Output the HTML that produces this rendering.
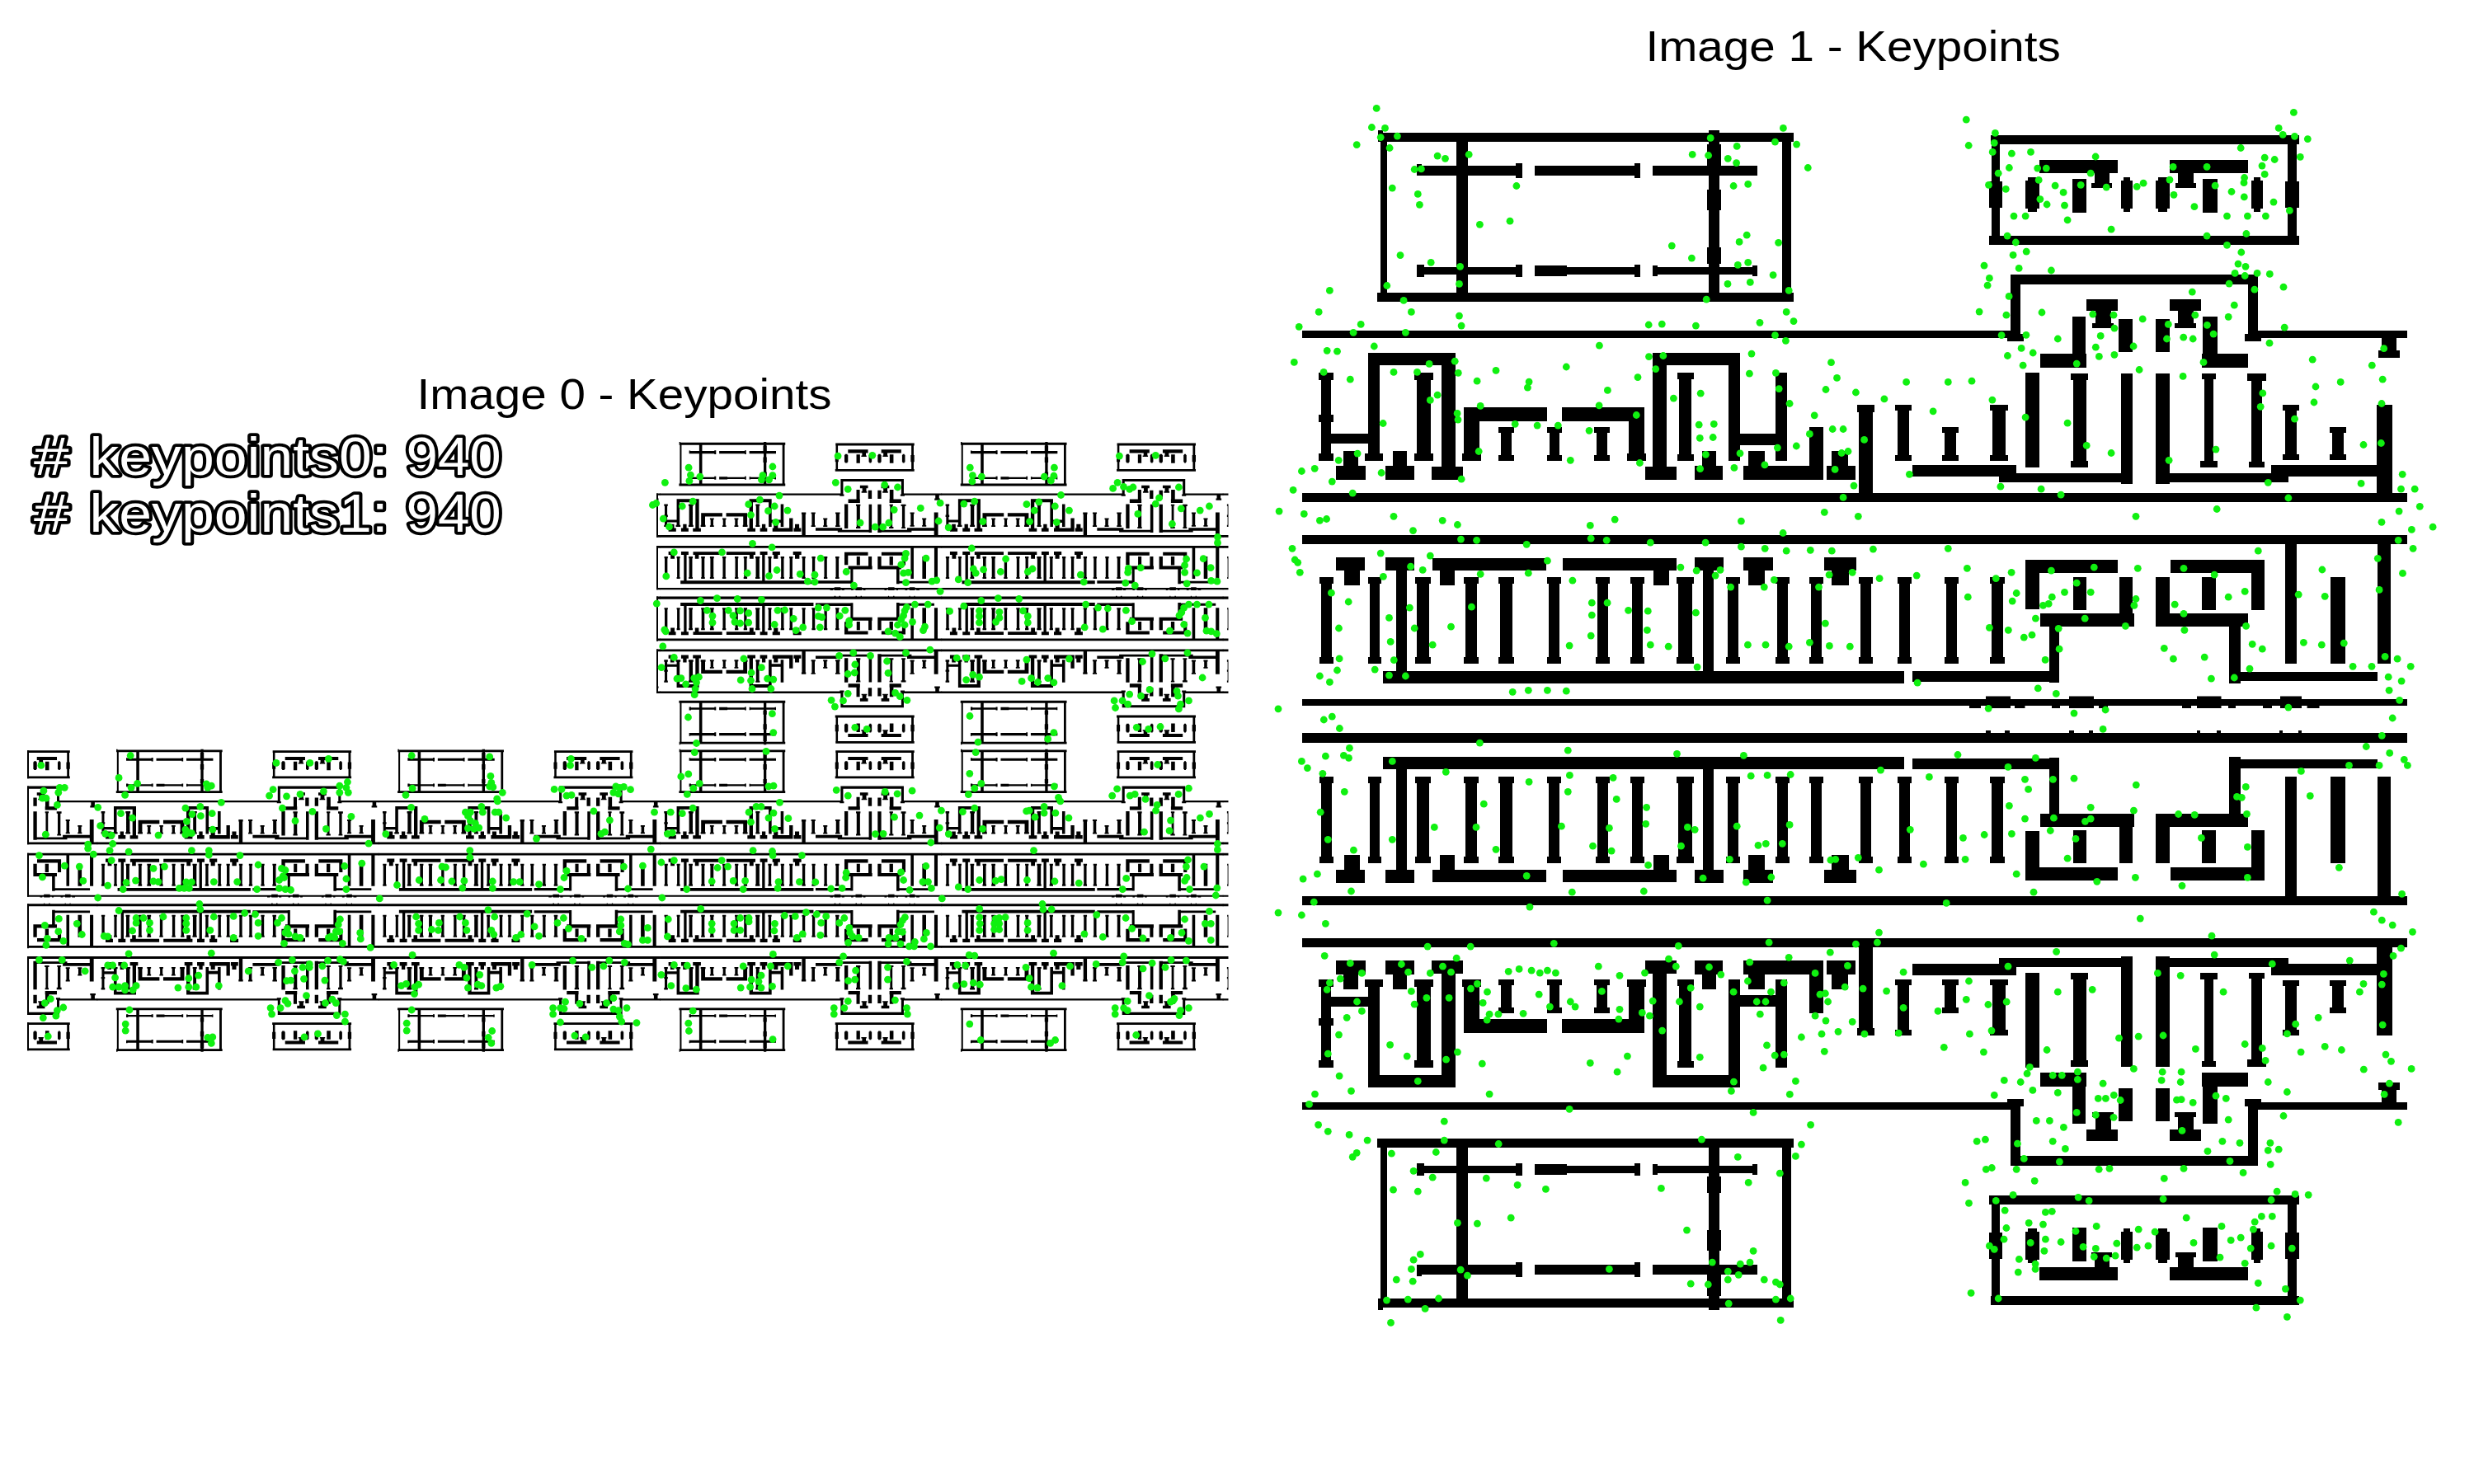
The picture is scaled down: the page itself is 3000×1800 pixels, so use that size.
<!DOCTYPE html><html><head><meta charset="utf-8"><title>Keypoints</title><style>html,body{margin:0;padding:0;background:#fff;overflow:hidden}svg{display:block}</style></head><body>
<svg width="3000" height="1800" viewBox="0 0 3000 1800">
<defs>
<path id="T" d="M1671 161h504v11h-504zM1670 355h505v11h-505zM1674 161h8v205h-8zM2161 161h11v205h-11zM1671 158h6v5h-6zM1766 172h14v183h-14zM2072 158h13v208h-13zM2070 175h17v30h-17zM2070 230h17v25h-17zM2070 300h17v20h-17zM1718 201h128v12h-128zM1861 201h128v12h-128zM2004 201h127v12h-127zM1718 199h6v4h-6zM1718 324h128v9h-128zM1861 324h128v9h-128zM2004 324h127v9h-127zM1718 321h9v15h-9zM1861 322h39v13h-39zM2004 322h6v13h-6zM2125 322h6v13h-6zM1838 198h8v18h-8zM1982 198h7v18h-7zM1838 321h8v15h-8zM1982 321h7v15h-7zM2414 164h374v11h-374zM2412 286h376v11h-376zM2415 164h10v133h-10zM2774 164h11v133h-11zM2412 220h16v32h-16zM2771 220h17v32h-17zM2473 194h95v16h-95zM2540 210h18v17h-18zM2536 222h25v6h-25zM2631 194h95v16h-95zM2641 210h19v17h-19zM2638 222h25v6h-25zM2456 219h17v34h-17zM2513 217h17v41h-17zM2572 219h14v34h-14zM2614 219h17v34h-17zM2671 217h18v41h-18zM2730 219h14v34h-14zM2459 215h11v42h-11zM2575 215h8v42h-8zM2617 215h11v42h-11zM2733 215h8v42h-8zM1579 401h871v9h-871zM2726 401h193v9h-193zM2438 333h300v12h-300zM2438 333h12v79h-12zM2726 333h12v79h-12zM2434 405h20v9h-20zM2722 405h20v9h-20zM2530 363h38v14h-38zM2541 377h19v20h-19zM2537 392h26v6h-26zM2631 363h38v14h-38zM2641 377h19v20h-19zM2637 392h26v6h-26zM2513 384h16v62h-16zM2474 429h56v17h-56zM2569 387h17v40h-17zM2614 387h17v40h-17zM2671 384h18v62h-18zM2670 429h56v17h-56zM2888 410h18v24h-18zM2884 425h26v9h-26zM1579 598h1340v11h-1340zM1602 452h12v107h-12zM1599 452h18v9h-18zM1599 550h18v9h-18zM1599 503h18v9h-18zM1614 526h48v12h-48zM1659 428h106v15h-106zM1659 428h14v131h-14zM1748 428h17v138h-17zM1736 566h38v16h-38zM1655 550h22v9h-22zM1718 452h17v107h-17zM1715 452h23v9h-23zM1715 550h23v9h-23zM1620 565h36v17h-36zM1629 547h18v18h-18zM1680 565h35v17h-35zM1689 547h17v18h-17zM1775 494h19v65h-19zM1775 494h101v17h-101zM1894 494h100v17h-100zM1975 494h19v65h-19zM1773 550h23v9h-23zM1973 550h23v9h-23zM2004 428h106v15h-106zM2004 428h17v138h-17zM2096 428h14v131h-14zM1995 566h38v16h-38zM2036 452h15v107h-15zM2034 452h20v8h-20zM2034 551h20v8h-20zM2153 452h14v107h-14zM2107 526h60v14h-60zM2055 565h34v17h-34zM2064 547h17v18h-17zM2114 565h97v17h-97zM2120 547h20v18h-20zM2194 518h17v47h-17zM2215 565h35v17h-35zM2221 547h20v18h-20zM2254 491h17v107h-17zM2252 491h21v9h-21zM2319 564h126v14h-126zM2424 574h162v11h-162zM2456 452h17v115h-17zM2514 453h16v114h-16zM2511 453h21v8h-21zM2511 559h21v8h-21zM2572 453h14v134h-14zM2614 453h17v134h-17zM2614 574h161v11h-161zM2668 559h21v8h-21zM2725 453h23v9h-23zM2754 564h129v14h-129zM2882 491h19v107h-19zM1579 649h1340v11h-1340zM1579 848h1340v8h-1340zM1620 676h35v16h-35zM1630 692h19v18h-19zM1680 676h35v16h-35zM1693 692h13v122h-13zM1737 677h138v15h-138zM1746 692h18v18h-18zM1895 677h138v15h-138zM2005 692h19v18h-19zM2055 676h35v16h-35zM2065 692h13v123h-13zM2114 676h36v16h-36zM2120 692h20v18h-20zM2212 676h39v16h-39zM2221 692h21v18h-21zM2456 679h112v16h-112zM2456 679h17v60h-17zM2570 700h16v59h-16zM2474 744h114v16h-114zM2485 760h12v68h-12zM2514 700h16v40h-16zM2632 679h114v16h-114zM2730 679h16v61h-16zM2614 700h17v60h-17zM2614 744h112v16h-112zM2703 760h14v69h-14zM2703 815h180v11h-180zM2670 700h17v40h-17zM2771 660h14v145h-14zM2883 660h16v145h-16zM2826 700h18v105h-18zM1677 814h632v15h-632zM2319 814h178v13h-178zM1602 700h13v105h-13zM1600 700h17v8h-17zM1600 797h17v8h-17zM1661 700h12v105h-12zM1659 700h16v8h-16zM1659 797h16v8h-16zM1718 700h15v105h-15zM1716 700h19v8h-19zM1716 797h19v8h-19zM1777 700h14v105h-14zM1775 700h18v8h-18zM1775 797h18v8h-18zM1819 700h15v105h-15zM1817 700h19v8h-19zM1817 797h19v8h-19zM1878 700h13v105h-13zM1876 700h17v8h-17zM1876 797h17v8h-17zM1937 700h13v105h-13zM1935 700h17v8h-17zM1935 797h17v8h-17zM1979 700h13v105h-13zM1977 700h17v8h-17zM1977 797h17v8h-17zM2035 700h17v105h-17zM2033 700h21v8h-21zM2033 797h21v8h-21zM2095 700h13v105h-13zM2093 700h17v8h-17zM2093 797h17v8h-17zM2155 700h13v105h-13zM2153 700h17v8h-17zM2153 797h17v8h-17zM2196 700h13v105h-13zM2194 700h17v8h-17zM2194 797h17v8h-17zM2256 700h13v105h-13zM2254 700h17v8h-17zM2254 797h17v8h-17zM2303 700h13v105h-13zM2301 700h17v8h-17zM2301 797h17v8h-17zM2360 700h13v105h-13zM2358 700h17v8h-17zM2358 797h17v8h-17zM2415 700h14v105h-14zM2413 700h18v8h-18zM2413 797h18v8h-18zM1820 518h13v41h-13zM1817 518h19v7h-19zM1817 552h19v7h-19zM1879 518h12v41h-12zM1876 518h18v7h-18zM1876 552h18v7h-18zM1936 518h13v41h-13zM1933 518h19v7h-19zM1933 552h19v7h-19zM2301 491h14v68h-14zM2298 491h20v7h-20zM2298 552h20v7h-20zM2358 518h14v41h-14zM2355 518h20v7h-20zM2355 552h20v7h-20zM2416 491h16v68h-16zM2413 491h22v7h-22zM2413 552h22v7h-22zM2771 491h14v67h-14zM2768 491h20v7h-20zM2768 551h20v7h-20zM2828 518h14v40h-14zM2825 518h20v7h-20zM2825 551h20v7h-20zM2673 453h11v114h-11zM2670 453h17v7h-17zM2670 560h17v7h-17zM2730 453h13v114h-13zM2727 453h19v7h-19zM2727 560h19v7h-19zM1671 1575h504v11h-504zM1670 1381h505v11h-505zM1674 1381h8v205h-8zM2161 1381h11v205h-11zM1671 1584h6v5h-6zM1766 1392h14v183h-14zM2072 1381h13v208h-13zM2070 1542h17v30h-17zM2070 1492h17v25h-17zM2070 1427h17v20h-17zM1718 1534h128v12h-128zM1861 1534h128v12h-128zM2004 1534h127v12h-127zM1718 1544h6v4h-6zM1718 1414h128v9h-128zM1861 1414h128v9h-128zM2004 1414h127v9h-127zM1718 1411h9v15h-9zM1861 1412h39v13h-39zM2004 1412h6v13h-6zM2125 1412h6v13h-6zM1838 1531h8v18h-8zM1982 1531h7v18h-7zM1838 1411h8v15h-8zM1982 1411h7v15h-7zM2414 1572h374v11h-374zM2412 1450h376v11h-376zM2415 1450h10v133h-10zM2774 1450h11v133h-11zM2412 1495h16v32h-16zM2771 1495h17v32h-17zM2473 1537h95v16h-95zM2540 1520h18v17h-18zM2536 1519h25v6h-25zM2631 1537h95v16h-95zM2641 1520h19v17h-19zM2638 1519h25v6h-25zM2456 1494h17v34h-17zM2513 1489h17v41h-17zM2572 1494h14v34h-14zM2614 1494h17v34h-17zM2671 1489h18v41h-18zM2730 1494h14v34h-14zM2459 1490h11v42h-11zM2575 1490h8v42h-8zM2617 1490h11v42h-11zM2733 1490h8v42h-8zM1579 1337h871v9h-871zM2726 1337h193v9h-193zM2438 1402h300v12h-300zM2438 1335h12v79h-12zM2726 1335h12v79h-12zM2434 1333h20v9h-20zM2722 1333h20v9h-20zM2530 1370h38v14h-38zM2541 1350h19v20h-19zM2537 1349h26v6h-26zM2631 1370h38v14h-38zM2641 1350h19v20h-19zM2637 1349h26v6h-26zM2513 1301h16v62h-16zM2474 1301h56v17h-56zM2569 1320h17v40h-17zM2614 1320h17v40h-17zM2671 1301h18v62h-18zM2670 1301h56v17h-56zM2888 1313h18v24h-18zM2884 1313h26v9h-26zM1579 1138h1340v11h-1340zM1602 1188h12v107h-12zM1599 1286h18v9h-18zM1599 1188h18v9h-18zM1599 1235h18v9h-18zM1614 1209h48v12h-48zM1659 1304h106v15h-106zM1659 1188h14v131h-14zM1748 1181h17v138h-17zM1736 1165h38v16h-38zM1655 1188h22v9h-22zM1718 1188h17v107h-17zM1715 1286h23v9h-23zM1715 1188h23v9h-23zM1620 1165h36v17h-36zM1629 1182h18v18h-18zM1680 1165h35v17h-35zM1689 1182h17v18h-17zM1775 1188h19v65h-19zM1775 1236h101v17h-101zM1894 1236h100v17h-100zM1975 1188h19v65h-19zM1773 1188h23v9h-23zM1973 1188h23v9h-23zM2004 1304h106v15h-106zM2004 1181h17v138h-17zM2096 1188h14v131h-14zM1995 1165h38v16h-38zM2036 1188h15v107h-15zM2034 1287h20v8h-20zM2034 1188h20v8h-20zM2153 1188h14v107h-14zM2107 1207h60v14h-60zM2055 1165h34v17h-34zM2064 1182h17v18h-17zM2114 1165h97v17h-97zM2120 1182h20v18h-20zM2194 1182h17v47h-17zM2215 1165h35v17h-35zM2221 1182h20v18h-20zM2254 1149h17v107h-17zM2252 1247h21v9h-21zM2319 1169h126v14h-126zM2424 1162h162v11h-162zM2456 1180h17v115h-17zM2514 1180h16v114h-16zM2511 1286h21v8h-21zM2511 1180h21v8h-21zM2572 1160h14v134h-14zM2614 1160h17v134h-17zM2614 1162h161v11h-161zM2668 1180h21v8h-21zM2725 1285h23v9h-23zM2754 1169h129v14h-129zM2882 1149h19v107h-19zM1579 1087h1340v11h-1340zM1579 891h1340v8h-1340zM1620 1055h35v16h-35zM1630 1037h19v18h-19zM1680 1055h35v16h-35zM1693 933h13v122h-13zM1737 1055h138v15h-138zM1746 1037h18v18h-18zM1895 1055h138v15h-138zM2005 1037h19v18h-19zM2055 1055h35v16h-35zM2065 932h13v123h-13zM2114 1055h36v16h-36zM2120 1037h20v18h-20zM2212 1055h39v16h-39zM2221 1037h21v18h-21zM2456 1052h112v16h-112zM2456 1008h17v60h-17zM2570 988h16v59h-16zM2474 987h114v16h-114zM2485 919h12v68h-12zM2514 1007h16v40h-16zM2632 1052h114v16h-114zM2730 1007h16v61h-16zM2614 987h17v60h-17zM2614 987h112v16h-112zM2703 918h14v69h-14zM2703 921h180v11h-180zM2670 1007h17v40h-17zM2771 942h14v145h-14zM2883 942h16v145h-16zM2826 942h18v105h-18zM1677 918h632v15h-632zM2319 920h178v13h-178zM1602 942h13v105h-13zM1600 1039h17v8h-17zM1600 942h17v8h-17zM1661 942h12v105h-12zM1659 1039h16v8h-16zM1659 942h16v8h-16zM1718 942h15v105h-15zM1716 1039h19v8h-19zM1716 942h19v8h-19zM1777 942h14v105h-14zM1775 1039h18v8h-18zM1775 942h18v8h-18zM1819 942h15v105h-15zM1817 1039h19v8h-19zM1817 942h19v8h-19zM1878 942h13v105h-13zM1876 1039h17v8h-17zM1876 942h17v8h-17zM1937 942h13v105h-13zM1935 1039h17v8h-17zM1935 942h17v8h-17zM1979 942h13v105h-13zM1977 1039h17v8h-17zM1977 942h17v8h-17zM2035 942h17v105h-17zM2033 1039h21v8h-21zM2033 942h21v8h-21zM2095 942h13v105h-13zM2093 1039h17v8h-17zM2093 942h17v8h-17zM2155 942h13v105h-13zM2153 1039h17v8h-17zM2153 942h17v8h-17zM2196 942h13v105h-13zM2194 1039h17v8h-17zM2194 942h17v8h-17zM2256 942h13v105h-13zM2254 1039h17v8h-17zM2254 942h17v8h-17zM2303 942h13v105h-13zM2301 1039h17v8h-17zM2301 942h17v8h-17zM2360 942h13v105h-13zM2358 1039h17v8h-17zM2358 942h17v8h-17zM2415 942h14v105h-14zM2413 1039h18v8h-18zM2413 942h18v8h-18zM1820 1188h13v41h-13zM1817 1222h19v7h-19zM1817 1188h19v7h-19zM1879 1188h12v41h-12zM1876 1222h18v7h-18zM1876 1188h18v7h-18zM1936 1188h13v41h-13zM1933 1222h19v7h-19zM1933 1188h19v7h-19zM2301 1188h14v68h-14zM2298 1249h20v7h-20zM2298 1188h20v7h-20zM2358 1188h14v41h-14zM2355 1222h20v7h-20zM2355 1188h20v7h-20zM2416 1188h16v68h-16zM2413 1249h22v7h-22zM2413 1188h22v7h-22zM2771 1189h14v67h-14zM2768 1249h20v7h-20zM2768 1189h20v7h-20zM2828 1189h14v40h-14zM2825 1222h20v7h-20zM2825 1189h20v7h-20zM2673 1180h11v114h-11zM2670 1287h17v7h-17zM2670 1180h17v7h-17zM2730 1180h13v114h-13zM2727 1287h19v7h-19zM2727 1180h19v7h-19zM1579 889h1340v12h-1340zM2388 853h14v6h-14zM2408 844.5h30v14.5h-30zM2443 853h12.5v6h-12.5zM2488 853h10v6h-10zM2509 844.5h30v14.5h-30zM2545 853h11v6h-11zM2646 853h11v6h-11zM2664 844.5h29.5v14.5h-29.5zM2702 853h9v6h-9zM2744 853h11v6h-11zM2765 844.5h26v14.5h-26zM2797.6 853h14.9v6h-14.9zM2408 886h6v4h-6zM2431 886h6v4h-6zM2509 886h6v4h-6zM2533 886h5v4h-5zM2664 886h4v4h-4zM2688 886h5v4h-5zM2764 886h4v4h-4zM2787 886h4v4h-4z"/>
<clipPath id="cT"><rect x="796" y="520" width="693.5" height="387"/></clipPath>
<clipPath id="cB"><rect x="33" y="905" width="1456.5" height="380"/></clipPath>
</defs>
<rect width="3000" height="1800" fill="#fff"/>
<use href="#T" fill="#000"/>
<g clip-path="url(#cT)" fill="#000">
<use href="#T" transform="matrix(0.2552 0 0 0.2566 55.9 495.5)"/>
<use href="#T" transform="matrix(0.2552 0 0 0.2566 397.2 495.5)"/>
<use href="#T" transform="matrix(0.2552 0 0 0.2566 738.5 495.5)"/>
<use href="#T" transform="matrix(0.2552 0 0 0.2566 1079.8 495.5)"/>
</g>
<g clip-path="url(#cB)" fill="#000">
<use href="#T" transform="matrix(0.2552 0 0 0.2566 -626.7 868.1)"/>
<use href="#T" transform="matrix(0.2552 0 0 0.2566 -285.4 868.1)"/>
<use href="#T" transform="matrix(0.2552 0 0 0.2566 55.9 868.1)"/>
<use href="#T" transform="matrix(0.2552 0 0 0.2566 397.2 868.1)"/>
<use href="#T" transform="matrix(0.2552 0 0 0.2566 738.5 868.1)"/>
<use href="#T" transform="matrix(0.2552 0 0 0.2566 1079.8 868.1)"/>
</g>
<path fill="#000" d="M796 598.4h2v53.37h-2zM796 662.03h2v53.12h-2zM796 723.62h2v54.14h-2zM796 787.51h2v53.37h-2zM33 910.18h2v34.13h-2zM33 953.55h2v70.82h-2zM33 1034.63h2v53.12h-2zM33 1096.22h2v54.14h-2zM33 1160.11h2v70.82h-2zM33 1240.17h2v34.13h-2z"/>
<g fill="#10f010">
<circle cx="1669.2" cy="131.4" r="4.4"/><circle cx="1663.4" cy="154.5" r="4.4"/><circle cx="1679.5" cy="155.4" r="4.4"/><circle cx="1674.2" cy="166.6" r="4.4"/><circle cx="1694.4" cy="165.1" r="4.4"/><circle cx="1645.2" cy="175.6" r="4.4"/><circle cx="1685.1" cy="179.5" r="4.4"/><circle cx="1743.1" cy="189.1" r="4.4"/><circle cx="1752.5" cy="192.3" r="4.4"/><circle cx="1781.2" cy="187.4" r="4.4"/><circle cx="1715.2" cy="205.5" r="4.4"/><circle cx="1723.4" cy="204.9" r="4.4"/><circle cx="1688.3" cy="228.1" r="4.4"/><circle cx="1838.9" cy="225.5" r="4.4"/><circle cx="1719.3" cy="235.4" r="4.4"/><circle cx="1721.4" cy="248.3" r="4.4"/><circle cx="1794.4" cy="272.3" r="4.4"/><circle cx="1831" cy="268.2" r="4.4"/><circle cx="1698" cy="309.6" r="4.4"/><circle cx="1735.2" cy="318.4" r="4.4"/><circle cx="1770.6" cy="323.3" r="4.4"/><circle cx="1681.8" cy="346.5" r="4.4"/><circle cx="1769.5" cy="344.4" r="4.4"/><circle cx="1612.4" cy="352.4" r="4.4"/><circle cx="1702.1" cy="364.4" r="4.4"/><circle cx="1599.2" cy="378.4" r="4.4"/><circle cx="1711.4" cy="378.4" r="4.4"/><circle cx="1769.5" cy="383.1" r="4.4"/><circle cx="1772.1" cy="395.1" r="4.4"/><circle cx="1575.2" cy="396.3" r="4.4"/><circle cx="1650.2" cy="393.4" r="4.4"/><circle cx="1641.1" cy="403.3" r="4.4"/><circle cx="1704.4" cy="403.3" r="4.4"/><circle cx="1666.3" cy="420" r="4.4"/><circle cx="1609.2" cy="425.3" r="4.4"/><circle cx="1621.5" cy="426.2" r="4.4"/><circle cx="1569.3" cy="439.4" r="4.4"/><circle cx="1605.1" cy="451.4" r="4.4"/><circle cx="1637.3" cy="460.2" r="4.4"/><circle cx="1690" cy="451.4" r="4.4"/><circle cx="1718.5" cy="451.4" r="4.4"/><circle cx="1733.1" cy="441.4" r="4.4"/><circle cx="1764.2" cy="438.2" r="4.4"/><circle cx="1768.3" cy="452.3" r="4.4"/><circle cx="1791.1" cy="462.2" r="4.4"/><circle cx="1814" cy="449.4" r="4.4"/><circle cx="1743.1" cy="479.2" r="4.4"/><circle cx="1734.3" cy="485.4" r="4.4"/><circle cx="1795.2" cy="492.4" r="4.4"/><circle cx="1854.1" cy="463.1" r="4.4"/><circle cx="1852.4" cy="470.2" r="4.4"/><circle cx="1899.3" cy="445" r="4.4"/><circle cx="1939.4" cy="419.2" r="4.4"/><circle cx="1949.4" cy="473.4" r="4.4"/><circle cx="1939.1" cy="491.8" r="4.4"/><circle cx="1986" cy="457.6" r="4.4"/><circle cx="1999.2" cy="394" r="4.4"/><circle cx="2015.3" cy="393.1" r="4.4"/><circle cx="2056.4" cy="395.1" r="4.4"/><circle cx="1999.5" cy="432.6" r="4.4"/><circle cx="2016.8" cy="431.5" r="4.4"/><circle cx="2007.7" cy="447.6" r="4.4"/><circle cx="2029.4" cy="483.1" r="4.4"/><circle cx="2062.2" cy="477.2" r="4.4"/><circle cx="2074.2" cy="167.4" r="4.4"/><circle cx="2052.2" cy="187.4" r="4.4"/><circle cx="2071.6" cy="188.5" r="4.4"/><circle cx="2106.2" cy="177.4" r="4.4"/><circle cx="2095.3" cy="192.3" r="4.4"/><circle cx="2105.6" cy="197.6" r="4.4"/><circle cx="2152.5" cy="172.1" r="4.4"/><circle cx="2162.4" cy="155.4" r="4.4"/><circle cx="2178.6" cy="175.1" r="4.4"/><circle cx="2192.3" cy="203.5" r="4.4"/><circle cx="2102.1" cy="225.5" r="4.4"/><circle cx="2119.7" cy="223.4" r="4.4"/><circle cx="2027.3" cy="298.1" r="4.4"/><circle cx="2051.4" cy="313.1" r="4.4"/><circle cx="2109.1" cy="293.4" r="4.4"/><circle cx="2118.2" cy="285.2" r="4.4"/><circle cx="2156.6" cy="294.3" r="4.4"/><circle cx="2107.3" cy="321.3" r="4.4"/><circle cx="2119.7" cy="318.4" r="4.4"/><circle cx="2150.1" cy="333.6" r="4.4"/><circle cx="2095" cy="344.4" r="4.4"/><circle cx="2122.3" cy="342.4" r="4.4"/><circle cx="2169.2" cy="352.4" r="4.4"/><circle cx="2069.2" cy="363.2" r="4.4"/><circle cx="2166.2" cy="378.4" r="4.4"/><circle cx="2175" cy="389.6" r="4.4"/><circle cx="2134" cy="391.3" r="4.4"/><circle cx="2152.5" cy="406.6" r="4.4"/><circle cx="2165.4" cy="413.3" r="4.4"/><circle cx="2124" cy="429.1" r="4.4"/><circle cx="2121.4" cy="453.2" r="4.4"/><circle cx="2153.4" cy="452.3" r="4.4"/><circle cx="2157.2" cy="471.6" r="4.4"/><circle cx="2170.1" cy="489.5" r="4.4"/><circle cx="2220.5" cy="439.7" r="4.4"/><circle cx="2227.5" cy="458.4" r="4.4"/><circle cx="2214" cy="472.5" r="4.4"/><circle cx="2250.4" cy="476" r="4.4"/><circle cx="2384.3" cy="145.2" r="4.4"/><circle cx="2387.2" cy="176.5" r="4.4"/><circle cx="2419.4" cy="161.3" r="4.4"/><circle cx="2418.3" cy="173.3" r="4.4"/><circle cx="2416.2" cy="184.4" r="4.4"/><circle cx="2439.4" cy="186.2" r="4.4"/><circle cx="2462.5" cy="184.4" r="4.4"/><circle cx="2541.1" cy="190" r="4.4"/><circle cx="2436.4" cy="203.5" r="4.4"/><circle cx="2470.7" cy="204.1" r="4.4"/><circle cx="2481.3" cy="204.1" r="4.4"/><circle cx="2423.2" cy="210.2" r="4.4"/><circle cx="2535.2" cy="210.2" r="4.4"/><circle cx="2472.2" cy="218.4" r="4.4"/><circle cx="2411.5" cy="224.3" r="4.4"/><circle cx="2432.3" cy="229.3" r="4.4"/><circle cx="2492.1" cy="225.2" r="4.4"/><circle cx="2523.2" cy="224.3" r="4.4"/><circle cx="2502.1" cy="233.4" r="4.4"/><circle cx="2554.2" cy="227.2" r="4.4"/><circle cx="2591.2" cy="226.3" r="4.4"/><circle cx="2599.1" cy="222.2" r="4.4"/><circle cx="2473.9" cy="241.6" r="4.4"/><circle cx="2482.1" cy="248" r="4.4"/><circle cx="2503.5" cy="249.2" r="4.4"/><circle cx="2442" cy="262.1" r="4.4"/><circle cx="2456.1" cy="262.1" r="4.4"/><circle cx="2507.1" cy="266.8" r="4.4"/><circle cx="2560.1" cy="278.2" r="4.4"/><circle cx="2635.1" cy="202.3" r="4.4"/><circle cx="2676.1" cy="202.3" r="4.4"/><circle cx="2631" cy="218.1" r="4.4"/><circle cx="2636" cy="236.3" r="4.4"/><circle cx="2686.1" cy="225.2" r="4.4"/><circle cx="2660.9" cy="250.7" r="4.4"/><circle cx="2706" cy="232.5" r="4.4"/><circle cx="2721.6" cy="215.5" r="4.4"/><circle cx="2721" cy="221.7" r="4.4"/><circle cx="2721.3" cy="238.9" r="4.4"/><circle cx="2717.2" cy="179.5" r="4.4"/><circle cx="2746.2" cy="191.2" r="4.4"/><circle cx="2758.2" cy="193.5" r="4.4"/><circle cx="2743" cy="201.1" r="4.4"/><circle cx="2746.2" cy="211.4" r="4.4"/><circle cx="2757" cy="245.1" r="4.4"/><circle cx="2700.5" cy="262.1" r="4.4"/><circle cx="2725.4" cy="262.1" r="4.4"/><circle cx="2747.4" cy="262.1" r="4.4"/><circle cx="2763.2" cy="155.4" r="4.4"/><circle cx="2768.2" cy="163.3" r="4.4"/><circle cx="2781.4" cy="136.4" r="4.4"/><circle cx="2782.5" cy="165.4" r="4.4"/><circle cx="2798.3" cy="168.6" r="4.4"/><circle cx="2789.3" cy="190.3" r="4.4"/><circle cx="2776.4" cy="255.4" r="4.4"/><circle cx="2434.1" cy="286.1" r="4.4"/><circle cx="2444.3" cy="294" r="4.4"/><circle cx="2676.1" cy="286.1" r="4.4"/><circle cx="2723.9" cy="283.5" r="4.4"/><circle cx="2700.5" cy="297.3" r="4.4"/><circle cx="2441.1" cy="309.3" r="4.4"/><circle cx="2457.2" cy="305.2" r="4.4"/><circle cx="2717.8" cy="306" r="4.4"/><circle cx="2406" cy="322.2" r="4.4"/><circle cx="2448.2" cy="325.4" r="4.4"/><circle cx="2487.4" cy="328" r="4.4"/><circle cx="2714" cy="320.1" r="4.4"/><circle cx="2723" cy="323.3" r="4.4"/><circle cx="2710.1" cy="331.3" r="4.4"/><circle cx="2722.2" cy="334.5" r="4.4"/><circle cx="2737.1" cy="331.3" r="4.4"/><circle cx="2752.3" cy="332.4" r="4.4"/><circle cx="2412.4" cy="337.4" r="4.4"/><circle cx="2410.1" cy="346.2" r="4.4"/><circle cx="2703.1" cy="344.1" r="4.4"/><circle cx="2733.9" cy="351.2" r="4.4"/><circle cx="2769" cy="348.2" r="4.4"/><circle cx="2658.3" cy="354.1" r="4.4"/><circle cx="2436.1" cy="359.4" r="4.4"/><circle cx="2400.1" cy="378.1" r="4.4"/><circle cx="2476" cy="379" r="4.4"/><circle cx="2432.9" cy="382.2" r="4.4"/><circle cx="2537.8" cy="381.1" r="4.4"/><circle cx="2563" cy="382.2" r="4.4"/><circle cx="2598.2" cy="386.9" r="4.4"/><circle cx="2709.3" cy="370.2" r="4.4"/><circle cx="2702.2" cy="384.3" r="4.4"/><circle cx="2661.8" cy="382.2" r="4.4"/><circle cx="2629.3" cy="393.4" r="4.4"/><circle cx="2676.4" cy="394.3" r="4.4"/><circle cx="2684.1" cy="405.1" r="4.4"/><circle cx="2770.2" cy="397.2" r="4.4"/><circle cx="2427.1" cy="406.6" r="4.4"/><circle cx="2456.9" cy="406.3" r="4.4"/><circle cx="2495.3" cy="411" r="4.4"/><circle cx="2547.2" cy="407.4" r="4.4"/><circle cx="2563.9" cy="398.1" r="4.4"/><circle cx="2627.5" cy="411" r="4.4"/><circle cx="2647.7" cy="409.2" r="4.4"/><circle cx="2659.2" cy="411" r="4.4"/><circle cx="2451.1" cy="422.4" r="4.4"/><circle cx="2465.2" cy="428" r="4.4"/><circle cx="2434.4" cy="431.5" r="4.4"/><circle cx="2541.3" cy="421.2" r="4.4"/><circle cx="2545.4" cy="432.4" r="4.4"/><circle cx="2563.9" cy="430.3" r="4.4"/><circle cx="2587.1" cy="420" r="4.4"/><circle cx="2453.1" cy="443.2" r="4.4"/><circle cx="2518.2" cy="441.1" r="4.4"/><circle cx="2594.1" cy="448.5" r="4.4"/><circle cx="2672" cy="439.4" r="4.4"/><circle cx="2752" cy="416.2" r="4.4"/><circle cx="2804.2" cy="436.2" r="4.4"/><circle cx="2876.3" cy="443.2" r="4.4"/><circle cx="2890.7" cy="422.7" r="4.4"/><circle cx="2647.1" cy="456.4" r="4.4"/><circle cx="2311.6" cy="463.4" r="4.4"/><circle cx="2362.3" cy="463.4" r="4.4"/><circle cx="2391" cy="462.2" r="4.4"/><circle cx="2838.2" cy="463.4" r="4.4"/><circle cx="2808" cy="469" r="4.4"/><circle cx="2889.2" cy="460.2" r="4.4"/><circle cx="2743.8" cy="476.9" r="4.4"/><circle cx="2284.9" cy="483.9" r="4.4"/><circle cx="2415.9" cy="485.1" r="4.4"/><circle cx="2806" cy="488" r="4.4"/><circle cx="2888" cy="489.5" r="4.4"/><circle cx="2741.2" cy="493.3" r="4.4"/><circle cx="1767.1" cy="501.4" r="4.4"/><circle cx="1768" cy="509.1" r="4.4"/><circle cx="1677.1" cy="513.5" r="4.4"/><circle cx="1837.2" cy="514.3" r="4.4"/><circle cx="1864.1" cy="516.1" r="4.4"/><circle cx="1889.3" cy="516.1" r="4.4"/><circle cx="1984.3" cy="503.5" r="4.4"/><circle cx="1927.1" cy="522.3" r="4.4"/><circle cx="1793.2" cy="547.5" r="4.4"/><circle cx="1646.1" cy="550.1" r="4.4"/><circle cx="1623.2" cy="558.3" r="4.4"/><circle cx="1904.3" cy="558.3" r="4.4"/><circle cx="1988.4" cy="561.5" r="4.4"/><circle cx="1578.4" cy="571.5" r="4.4"/><circle cx="1594.2" cy="568.3" r="4.4"/><circle cx="1615.3" cy="584.1" r="4.4"/><circle cx="1675.1" cy="573.5" r="4.4"/><circle cx="1772.1" cy="581.2" r="4.4"/><circle cx="1568.1" cy="594.3" r="4.4"/><circle cx="1640.2" cy="598.2" r="4.4"/><circle cx="2060.2" cy="515.2" r="4.4"/><circle cx="2078.3" cy="514.3" r="4.4"/><circle cx="2061.3" cy="531.3" r="4.4"/><circle cx="2077.2" cy="530.5" r="4.4"/><circle cx="2068.4" cy="551.3" r="4.4"/><circle cx="2061.6" cy="568.6" r="4.4"/><circle cx="2110" cy="549.8" r="4.4"/><circle cx="2102.9" cy="567.4" r="4.4"/><circle cx="2155.4" cy="543.1" r="4.4"/><circle cx="2178.3" cy="541" r="4.4"/><circle cx="2194.4" cy="526.4" r="4.4"/><circle cx="2200.2" cy="503.8" r="4.4"/><circle cx="2222.2" cy="520.5" r="4.4"/><circle cx="2235.1" cy="520.5" r="4.4"/><circle cx="2260.6" cy="533.4" r="4.4"/><circle cx="2241" cy="547.5" r="4.4"/><circle cx="2233.1" cy="549.5" r="4.4"/><circle cx="2225.1" cy="569.4" r="4.4"/><circle cx="2139.9" cy="563.9" r="4.4"/><circle cx="2248" cy="589.1" r="4.4"/><circle cx="2235.1" cy="603.4" r="4.4"/><circle cx="1551.1" cy="620.1" r="4.4"/><circle cx="1581.3" cy="623.4" r="4.4"/><circle cx="1600.4" cy="631.3" r="4.4"/><circle cx="1608.6" cy="629.5" r="4.4"/><circle cx="1690" cy="626.3" r="4.4"/><circle cx="1749.2" cy="631.3" r="4.4"/><circle cx="1767.4" cy="636.5" r="4.4"/><circle cx="1713.5" cy="643.6" r="4.4"/><circle cx="1928.3" cy="637.4" r="4.4"/><circle cx="1958.2" cy="630.1" r="4.4"/><circle cx="2111.4" cy="632.1" r="4.4"/><circle cx="2212.3" cy="621.3" r="4.4"/><circle cx="2253.3" cy="626.3" r="4.4"/><circle cx="2162.1" cy="646.5" r="4.4"/><circle cx="1771.5" cy="654.1" r="4.4"/><circle cx="1790.6" cy="655.3" r="4.4"/><circle cx="1851.2" cy="660.3" r="4.4"/><circle cx="1929.2" cy="653.2" r="4.4"/><circle cx="1948.2" cy="655.3" r="4.4"/><circle cx="2001.3" cy="658.2" r="4.4"/><circle cx="2068.1" cy="658.2" r="4.4"/><circle cx="2111.4" cy="663.2" r="4.4"/><circle cx="2140.2" cy="665.3" r="4.4"/><circle cx="2166.2" cy="668.2" r="4.4"/><circle cx="2195.3" cy="667.3" r="4.4"/><circle cx="2221.3" cy="668.2" r="4.4"/><circle cx="1567" cy="665.3" r="4.4"/><circle cx="1570.2" cy="679" r="4.4"/><circle cx="1573.7" cy="682.3" r="4.4"/><circle cx="1576.3" cy="694.3" r="4.4"/><circle cx="1674.2" cy="671.1" r="4.4"/><circle cx="1734.3" cy="674.1" r="4.4"/><circle cx="1710.6" cy="687.2" r="4.4"/><circle cx="1725.2" cy="691.3" r="4.4"/><circle cx="1677.4" cy="699.3" r="4.4"/><circle cx="1876.4" cy="680.2" r="4.4"/><circle cx="1795.2" cy="696.3" r="4.4"/><circle cx="1853.3" cy="695.2" r="4.4"/><circle cx="1906.9" cy="704.2" r="4.4"/><circle cx="2037.9" cy="688.1" r="4.4"/><circle cx="2057.2" cy="692.2" r="4.4"/><circle cx="2086" cy="691.3" r="4.4"/><circle cx="2080.1" cy="698.1" r="4.4"/><circle cx="2098.6" cy="712.1" r="4.4"/><circle cx="2151.3" cy="703.4" r="4.4"/><circle cx="2139.3" cy="712.1" r="4.4"/><circle cx="2205.5" cy="712.1" r="4.4"/><circle cx="2218.1" cy="697.2" r="4.4"/><circle cx="2246.2" cy="694.3" r="4.4"/><circle cx="1614.4" cy="719.2" r="4.4"/><circle cx="1635.2" cy="730" r="4.4"/><circle cx="1709.4" cy="737.1" r="4.4"/><circle cx="1684.5" cy="749.4" r="4.4"/><circle cx="1784.4" cy="736.2" r="4.4"/><circle cx="1623.5" cy="762" r="4.4"/><circle cx="1715.2" cy="762" r="4.4"/><circle cx="1759.5" cy="760.2" r="4.4"/><circle cx="1686.2" cy="778.4" r="4.4"/><circle cx="1737.2" cy="782.2" r="4.4"/><circle cx="1930.3" cy="731.2" r="4.4"/><circle cx="1949.1" cy="731.2" r="4.4"/><circle cx="1930.3" cy="746.1" r="4.4"/><circle cx="1974.6" cy="740.3" r="4.4"/><circle cx="1998.3" cy="741.2" r="4.4"/><circle cx="1997.4" cy="764.3" r="4.4"/><circle cx="1929.2" cy="771.1" r="4.4"/><circle cx="2056.4" cy="743.2" r="4.4"/><circle cx="1903.1" cy="783.1" r="4.4"/><circle cx="2001.3" cy="782.2" r="4.4"/><circle cx="2023.2" cy="784.2" r="4.4"/><circle cx="2119.4" cy="782.2" r="4.4"/><circle cx="2141" cy="782.2" r="4.4"/><circle cx="2169.2" cy="784.2" r="4.4"/><circle cx="2194.4" cy="779.3" r="4.4"/><circle cx="2218.4" cy="783.4" r="4.4"/><circle cx="2243.3" cy="784.2" r="4.4"/><circle cx="2213.4" cy="756.1" r="4.4"/><circle cx="1624.1" cy="798.9" r="4.4"/><circle cx="1690.3" cy="800.6" r="4.4"/><circle cx="1621.5" cy="813" r="4.4"/><circle cx="1667.2" cy="812.1" r="4.4"/><circle cx="1600.4" cy="820" r="4.4"/><circle cx="1612.4" cy="827.3" r="4.4"/><circle cx="1684.5" cy="819.1" r="4.4"/><circle cx="1704.4" cy="820" r="4.4"/><circle cx="2058.1" cy="809.1" r="4.4"/><circle cx="1834.2" cy="839.3" r="4.4"/><circle cx="1853.3" cy="837.3" r="4.4"/><circle cx="1876.4" cy="837.3" r="4.4"/><circle cx="1899.3" cy="838.2" r="4.4"/><circle cx="1550" cy="859.8" r="4.4"/><circle cx="1605.3" cy="873" r="4.4"/><circle cx="1615.3" cy="869.2" r="4.4"/><circle cx="2344.1" cy="498.8" r="4.4"/><circle cx="2456.1" cy="506.1" r="4.4"/><circle cx="2507.1" cy="513.2" r="4.4"/><circle cx="2530.2" cy="540.4" r="4.4"/><circle cx="2560.1" cy="549.5" r="4.4"/><circle cx="2782.5" cy="508.2" r="4.4"/><circle cx="2866" cy="539.5" r="4.4"/><circle cx="2887.4" cy="537.5" r="4.4"/><circle cx="2687" cy="545.1" r="4.4"/><circle cx="2630.1" cy="558.3" r="4.4"/><circle cx="2315.4" cy="575.3" r="4.4"/><circle cx="2425.9" cy="590.2" r="4.4"/><circle cx="2475.1" cy="593.2" r="4.4"/><circle cx="2499.1" cy="600.2" r="4.4"/><circle cx="2750.3" cy="585.3" r="4.4"/><circle cx="2863.1" cy="586.4" r="4.4"/><circle cx="2913.2" cy="575.3" r="4.4"/><circle cx="2911.5" cy="593.2" r="4.4"/><circle cx="2928.2" cy="593.2" r="4.4"/><circle cx="2774.9" cy="604" r="4.4"/><circle cx="2934.3" cy="614.3" r="4.4"/><circle cx="2909.1" cy="620.1" r="4.4"/><circle cx="2688.2" cy="617.5" r="4.4"/><circle cx="2590" cy="626.3" r="4.4"/><circle cx="2888" cy="633.3" r="4.4"/><circle cx="2924.4" cy="642.4" r="4.4"/><circle cx="2950.1" cy="639.2" r="4.4"/><circle cx="2908.2" cy="655.3" r="4.4"/><circle cx="2926.1" cy="665.3" r="4.4"/><circle cx="2271.4" cy="666.1" r="4.4"/><circle cx="2362.3" cy="665.3" r="4.4"/><circle cx="2738.3" cy="668.2" r="4.4"/><circle cx="2883.3" cy="677.3" r="4.4"/><circle cx="2913.5" cy="695.4" r="4.4"/><circle cx="2385.4" cy="689.3" r="4.4"/><circle cx="2324.2" cy="698.1" r="4.4"/><circle cx="2279.1" cy="701.6" r="4.4"/><circle cx="2420.3" cy="701.6" r="4.4"/><circle cx="2439.1" cy="694.3" r="4.4"/><circle cx="2487.4" cy="692.2" r="4.4"/><circle cx="2539.3" cy="688.1" r="4.4"/><circle cx="2592.3" cy="689.3" r="4.4"/><circle cx="2648" cy="689.3" r="4.4"/><circle cx="2685.2" cy="697.2" r="4.4"/><circle cx="2815.9" cy="691" r="4.4"/><circle cx="2518.2" cy="707.2" r="4.4"/><circle cx="2535.2" cy="718.3" r="4.4"/><circle cx="2503.5" cy="718.3" r="4.4"/><circle cx="2445.2" cy="719.5" r="4.4"/><circle cx="2386.3" cy="724.2" r="4.4"/><circle cx="2488.3" cy="724.2" r="4.4"/><circle cx="2440.2" cy="729.1" r="4.4"/><circle cx="2484.2" cy="732.4" r="4.4"/><circle cx="2477.5" cy="734.4" r="4.4"/><circle cx="2590" cy="726.5" r="4.4"/><circle cx="2587.9" cy="734.4" r="4.4"/><circle cx="2637.2" cy="733.2" r="4.4"/><circle cx="2648" cy="744.4" r="4.4"/><circle cx="2702.2" cy="724.2" r="4.4"/><circle cx="2722.2" cy="717.4" r="4.4"/><circle cx="2787.2" cy="721.2" r="4.4"/><circle cx="2819.2" cy="723.3" r="4.4"/><circle cx="2885.1" cy="715.4" r="4.4"/><circle cx="2468.4" cy="750.2" r="4.4"/><circle cx="2528.2" cy="750.2" r="4.4"/><circle cx="2496.2" cy="762.3" r="4.4"/><circle cx="2577.4" cy="759.3" r="4.4"/><circle cx="2412.4" cy="761.4" r="4.4"/><circle cx="2435.3" cy="764.3" r="4.4"/><circle cx="2454.3" cy="773.1" r="4.4"/><circle cx="2464" cy="770.2" r="4.4"/><circle cx="2648.9" cy="764.3" r="4.4"/><circle cx="2723.6" cy="759.3" r="4.4"/><circle cx="2624.3" cy="786.3" r="4.4"/><circle cx="2635.4" cy="799.2" r="4.4"/><circle cx="2673.2" cy="797.1" r="4.4"/><circle cx="2497.1" cy="787.2" r="4.4"/><circle cx="2480.1" cy="800.4" r="4.4"/><circle cx="2731.2" cy="781.3" r="4.4"/><circle cx="2743.3" cy="787.2" r="4.4"/><circle cx="2793.4" cy="779.3" r="4.4"/><circle cx="2815.3" cy="782.2" r="4.4"/><circle cx="2842.3" cy="780.1" r="4.4"/><circle cx="2892.1" cy="796.3" r="4.4"/><circle cx="2907.1" cy="799.2" r="4.4"/><circle cx="2923.2" cy="808.3" r="4.4"/><circle cx="2853.1" cy="808.3" r="4.4"/><circle cx="2876" cy="808.3" r="4.4"/><circle cx="2728" cy="811.2" r="4.4"/><circle cx="2709.3" cy="822" r="4.4"/><circle cx="2681.4" cy="823.2" r="4.4"/><circle cx="2896.2" cy="821.2" r="4.4"/><circle cx="2912.1" cy="826.1" r="4.4"/><circle cx="2897.1" cy="837.3" r="4.4"/><circle cx="2909.7" cy="849.3" r="4.4"/><circle cx="2325.1" cy="828.2" r="4.4"/><circle cx="2471.3" cy="834.9" r="4.4"/><circle cx="2493.3" cy="841.4" r="4.4"/><circle cx="2411.2" cy="859.3" r="4.4"/><circle cx="2515" cy="865.1" r="4.4"/><circle cx="2553.1" cy="861" r="4.4"/><circle cx="2774.9" cy="858.1" r="4.4"/><circle cx="2901.2" cy="871" r="4.4"/><circle cx="1624.4" cy="883.5" r="4.4"/><circle cx="1794.4" cy="901.1" r="4.4"/><circle cx="1636.4" cy="907.3" r="4.4"/><circle cx="1607.4" cy="917.2" r="4.4"/><circle cx="1629.4" cy="916.3" r="4.4"/><circle cx="1635.5" cy="919.3" r="4.4"/><circle cx="1578.4" cy="923.4" r="4.4"/><circle cx="1585.4" cy="931.6" r="4.4"/><circle cx="1603.9" cy="938.3" r="4.4"/><circle cx="1688.3" cy="923.4" r="4.4"/><circle cx="1753.3" cy="936.3" r="4.4"/><circle cx="1901.3" cy="910.2" r="4.4"/><circle cx="2033.5" cy="914.3" r="4.4"/><circle cx="2114.4" cy="916.3" r="4.4"/><circle cx="1903.4" cy="940.4" r="4.4"/><circle cx="1854.1" cy="948.3" r="4.4"/><circle cx="1901.3" cy="960.3" r="4.4"/><circle cx="1956.1" cy="943.3" r="4.4"/><circle cx="1960.2" cy="969.4" r="4.4"/><circle cx="1996.6" cy="979.3" r="4.4"/><circle cx="1995.7" cy="999.3" r="4.4"/><circle cx="2123.2" cy="941.2" r="4.4"/><circle cx="2143.1" cy="940.4" r="4.4"/><circle cx="2171.2" cy="939.5" r="4.4"/><circle cx="1630.3" cy="960.3" r="4.4"/><circle cx="1799.3" cy="975.2" r="4.4"/><circle cx="1601.2" cy="985.2" r="4.4"/><circle cx="1739.3" cy="1003.4" r="4.4"/><circle cx="1790" cy="1003.4" r="4.4"/><circle cx="1893.4" cy="1002.2" r="4.4"/><circle cx="1951.4" cy="1004.3" r="4.4"/><circle cx="2046.4" cy="1003.4" r="4.4"/><circle cx="2055.2" cy="1006.3" r="4.4"/><circle cx="2106.2" cy="1002.2" r="4.4"/><circle cx="2170.1" cy="1000.4" r="4.4"/><circle cx="1610.3" cy="1018.3" r="4.4"/><circle cx="1688.3" cy="1018.3" r="4.4"/><circle cx="1641.4" cy="1031.2" r="4.4"/><circle cx="1814" cy="1030.3" r="4.4"/><circle cx="1931.5" cy="1026.2" r="4.4"/><circle cx="1954.1" cy="1032.1" r="4.4"/><circle cx="2038.5" cy="1026.2" r="4.4"/><circle cx="2132" cy="1025.4" r="4.4"/><circle cx="2141.3" cy="1023.3" r="4.4"/><circle cx="2161.3" cy="1023.3" r="4.4"/><circle cx="2097.4" cy="1042.3" r="4.4"/><circle cx="2219.9" cy="1043.2" r="4.4"/><circle cx="2225.7" cy="1042.3" r="4.4"/><circle cx="2253.3" cy="1040.3" r="4.4"/><circle cx="1998.6" cy="1049.4" r="4.4"/><circle cx="1580.1" cy="1066.1" r="4.4"/><circle cx="1597.4" cy="1060.2" r="4.4"/><circle cx="1851.2" cy="1062.3" r="4.4"/><circle cx="2065.1" cy="1065.2" r="4.4"/><circle cx="2117.3" cy="1070.2" r="4.4"/><circle cx="2147.8" cy="1064" r="4.4"/><circle cx="1638.5" cy="1081" r="4.4"/><circle cx="1906.3" cy="1082.2" r="4.4"/><circle cx="1993.3" cy="1081" r="4.4"/><circle cx="1593.3" cy="1094.2" r="4.4"/><circle cx="1855" cy="1100.1" r="4.4"/><circle cx="2143.1" cy="1092.2" r="4.4"/><circle cx="1550" cy="1107.1" r="4.4"/><circle cx="1578.4" cy="1110" r="4.4"/><circle cx="1607.4" cy="1120.3" r="4.4"/><circle cx="1731.1" cy="1148.1" r="4.4"/><circle cx="1783.2" cy="1148.1" r="4.4"/><circle cx="1884.3" cy="1144.3" r="4.4"/><circle cx="2035.3" cy="1147.3" r="4.4"/><circle cx="2145.1" cy="1143.2" r="4.4"/><circle cx="2250.4" cy="1145.2" r="4.4"/><circle cx="2219.3" cy="1155.2" r="4.4"/><circle cx="1606.2" cy="1159.3" r="4.4"/><circle cx="1766.2" cy="1162.2" r="4.4"/><circle cx="1637.3" cy="1168.4" r="4.4"/><circle cx="1699.4" cy="1169.5" r="4.4"/><circle cx="1749.5" cy="1172.2" r="4.4"/><circle cx="1651.4" cy="1180.4" r="4.4"/><circle cx="1707.6" cy="1179.2" r="4.4"/><circle cx="1734.3" cy="1180.4" r="4.4"/><circle cx="1759.5" cy="1179.2" r="4.4"/><circle cx="1625.3" cy="1187.1" r="4.4"/><circle cx="1612.4" cy="1192.1" r="4.4"/><circle cx="1609.2" cy="1200.3" r="4.4"/><circle cx="1938.3" cy="1172.2" r="4.4"/><circle cx="2023.5" cy="1163.1" r="4.4"/><circle cx="2032.3" cy="1172.2" r="4.4"/><circle cx="2072.5" cy="1173" r="4.4"/><circle cx="2086.8" cy="1182.1" r="4.4"/><circle cx="2121.7" cy="1167.2" r="4.4"/><circle cx="2169.2" cy="1161.3" r="4.4"/><circle cx="2201.1" cy="1180.4" r="4.4"/><circle cx="2240.4" cy="1171.3" r="4.4"/><circle cx="2259.1" cy="1199.1" r="4.4"/><circle cx="1829.2" cy="1178.3" r="4.4"/><circle cx="1842.1" cy="1175.4" r="4.4"/><circle cx="1857.1" cy="1177.2" r="4.4"/><circle cx="1867.3" cy="1180.1" r="4.4"/><circle cx="1876.4" cy="1177.2" r="4.4"/><circle cx="1886.4" cy="1180.1" r="4.4"/><circle cx="1964" cy="1183.3" r="4.4"/><circle cx="1994.5" cy="1180.1" r="4.4"/><circle cx="1791.4" cy="1193.3" r="4.4"/><circle cx="1783.5" cy="1199.1" r="4.4"/><circle cx="1803.5" cy="1203.2" r="4.4"/><circle cx="1866.2" cy="1206.2" r="4.4"/><circle cx="1942.4" cy="1202.4" r="4.4"/><circle cx="2050.2" cy="1198.3" r="4.4"/><circle cx="2102.1" cy="1203.2" r="4.4"/><circle cx="2119.4" cy="1190" r="4.4"/><circle cx="2163.3" cy="1192.1" r="4.4"/><circle cx="2147.5" cy="1203.2" r="4.4"/><circle cx="2237.2" cy="1197.1" r="4.4"/><circle cx="2207" cy="1206.2" r="4.4"/><circle cx="2213.4" cy="1205" r="4.4"/><circle cx="1711.4" cy="1202.4" r="4.4"/><circle cx="1729.9" cy="1210.3" r="4.4"/><circle cx="1757.1" cy="1210.3" r="4.4"/><circle cx="1645.5" cy="1215" r="4.4"/><circle cx="1715.2" cy="1218.2" r="4.4"/><circle cx="1651.4" cy="1226.4" r="4.4"/><circle cx="1633.2" cy="1234.3" r="4.4"/><circle cx="1798.2" cy="1216.4" r="4.4"/><circle cx="1806.1" cy="1230.2" r="4.4"/><circle cx="1816.9" cy="1230.2" r="4.4"/><circle cx="1803.2" cy="1237.2" r="4.4"/><circle cx="1847.1" cy="1229.3" r="4.4"/><circle cx="1879.4" cy="1221.1" r="4.4"/><circle cx="1904.3" cy="1215" r="4.4"/><circle cx="1910.1" cy="1221.1" r="4.4"/><circle cx="1964" cy="1224.3" r="4.4"/><circle cx="1962.9" cy="1236.1" r="4.4"/><circle cx="1991.3" cy="1228.4" r="4.4"/><circle cx="2000.4" cy="1232.2" r="4.4"/><circle cx="2004.2" cy="1214.1" r="4.4"/><circle cx="2036.4" cy="1215" r="4.4"/><circle cx="2061.3" cy="1221.1" r="4.4"/><circle cx="2130.2" cy="1215" r="4.4"/><circle cx="2141" cy="1215" r="4.4"/><circle cx="2134.3" cy="1230.2" r="4.4"/><circle cx="2216.6" cy="1215" r="4.4"/><circle cx="2201.1" cy="1232.2" r="4.4"/><circle cx="2214" cy="1238.1" r="4.4"/><circle cx="2246.2" cy="1239.3" r="4.4"/><circle cx="1623.5" cy="1255.1" r="4.4"/><circle cx="2015.6" cy="1250.1" r="4.4"/><circle cx="2229" cy="1251.3" r="4.4"/><circle cx="2209" cy="1254.2" r="4.4"/><circle cx="2184.4" cy="1258" r="4.4"/><circle cx="2260.9" cy="1254.2" r="4.4"/><circle cx="2550.1" cy="884.4" r="4.4"/><circle cx="2888.3" cy="892.3" r="4.4"/><circle cx="2869.3" cy="905.5" r="4.4"/><circle cx="2897.7" cy="913.4" r="4.4"/><circle cx="2915.3" cy="921.3" r="4.4"/><circle cx="2919.4" cy="928.4" r="4.4"/><circle cx="2374" cy="915.5" r="4.4"/><circle cx="2468.4" cy="919.3" r="4.4"/><circle cx="2435" cy="930.4" r="4.4"/><circle cx="2280.5" cy="934.2" r="4.4"/><circle cx="2339.4" cy="942.4" r="4.4"/><circle cx="2455.5" cy="945.3" r="4.4"/><circle cx="2459.6" cy="957.4" r="4.4"/><circle cx="2489.5" cy="945.3" r="4.4"/><circle cx="2515" cy="944.2" r="4.4"/><circle cx="2590.3" cy="952.1" r="4.4"/><circle cx="2790.4" cy="935.4" r="4.4"/><circle cx="2848.5" cy="928.4" r="4.4"/><circle cx="2885.1" cy="928.4" r="4.4"/><circle cx="2723.3" cy="954.4" r="4.4"/><circle cx="2712.5" cy="966.4" r="4.4"/><circle cx="2718.3" cy="967.3" r="4.4"/><circle cx="2801.3" cy="965.3" r="4.4"/><circle cx="2436.4" cy="977.3" r="4.4"/><circle cx="2535.2" cy="979.3" r="4.4"/><circle cx="2587.4" cy="983.2" r="4.4"/><circle cx="2455.5" cy="993.1" r="4.4"/><circle cx="2490.4" cy="992.2" r="4.4"/><circle cx="2528.5" cy="996.3" r="4.4"/><circle cx="2535.2" cy="993.1" r="4.4"/><circle cx="2641.6" cy="987.5" r="4.4"/><circle cx="2661.2" cy="988.4" r="4.4"/><circle cx="2724.5" cy="987.3" r="4.4"/><circle cx="2316.3" cy="1006.3" r="4.4"/><circle cx="2380.5" cy="1016.3" r="4.4"/><circle cx="2406.2" cy="1012.5" r="4.4"/><circle cx="2439.4" cy="1011.3" r="4.4"/><circle cx="2486.3" cy="1007.5" r="4.4"/><circle cx="2517" cy="1017.4" r="4.4"/><circle cx="2669.4" cy="1016.3" r="4.4"/><circle cx="2725.4" cy="1027.4" r="4.4"/><circle cx="2383.1" cy="1042.3" r="4.4"/><circle cx="2332.4" cy="1048.2" r="4.4"/><circle cx="2278.5" cy="1055.2" r="4.4"/><circle cx="2507.1" cy="1041.2" r="4.4"/><circle cx="2445.2" cy="1060.2" r="4.4"/><circle cx="2542.8" cy="1069.3" r="4.4"/><circle cx="2589.4" cy="1064.3" r="4.4"/><circle cx="2646" cy="1074.3" r="4.4"/><circle cx="2725.4" cy="1064.3" r="4.4"/><circle cx="2836.4" cy="1052.3" r="4.4"/><circle cx="2466" cy="1082.2" r="4.4"/><circle cx="2360.2" cy="1095.4" r="4.4"/><circle cx="2912.6" cy="1084.3" r="4.4"/><circle cx="2595.3" cy="1114.1" r="4.4"/><circle cx="2878.4" cy="1106.2" r="4.4"/><circle cx="2888.3" cy="1116.2" r="4.4"/><circle cx="2901.2" cy="1122.1" r="4.4"/><circle cx="2925.5" cy="1130.3" r="4.4"/><circle cx="2278.5" cy="1131.1" r="4.4"/><circle cx="2276.4" cy="1143.2" r="4.4"/><circle cx="2682" cy="1135.2" r="4.4"/><circle cx="2493.6" cy="1154.3" r="4.4"/><circle cx="2685.2" cy="1158.1" r="4.4"/><circle cx="2911.5" cy="1150.2" r="4.4"/><circle cx="2902.1" cy="1159.3" r="4.4"/><circle cx="2849.3" cy="1165.1" r="4.4"/><circle cx="2755.3" cy="1169.2" r="4.4"/><circle cx="2435" cy="1172.2" r="4.4"/><circle cx="2308.1" cy="1179.2" r="4.4"/><circle cx="2616.4" cy="1180.4" r="4.4"/><circle cx="2644.2" cy="1183.3" r="4.4"/><circle cx="2890.4" cy="1181.3" r="4.4"/><circle cx="2888.3" cy="1194.1" r="4.4"/><circle cx="2866" cy="1193.3" r="4.4"/><circle cx="2861.4" cy="1203.2" r="4.4"/><circle cx="2387.5" cy="1190" r="4.4"/><circle cx="2287.6" cy="1202.1" r="4.4"/><circle cx="2384.3" cy="1212.3" r="4.4"/><circle cx="2410.9" cy="1218.5" r="4.4"/><circle cx="2433.2" cy="1215.2" r="4.4"/><circle cx="2350" cy="1226.4" r="4.4"/><circle cx="2308.1" cy="1222.3" r="4.4"/><circle cx="2495.3" cy="1203.2" r="4.4"/><circle cx="2537.2" cy="1200.3" r="4.4"/><circle cx="2696.1" cy="1203.2" r="4.4"/><circle cx="2811.2" cy="1234.3" r="4.4"/><circle cx="2783.7" cy="1242.2" r="4.4"/><circle cx="2773.4" cy="1253.9" r="4.4"/><circle cx="2889.2" cy="1243.1" r="4.4"/><circle cx="2302.2" cy="1253.1" r="4.4"/><circle cx="2388.4" cy="1254.2" r="4.4"/><circle cx="2415" cy="1250.1" r="4.4"/><circle cx="2569.5" cy="1259.2" r="4.4"/><circle cx="2593.2" cy="1257.2" r="4.4"/><circle cx="2623.1" cy="1256" r="4.4"/><circle cx="1685.6" cy="1267.3" r="4.4"/><circle cx="2142.5" cy="1267.9" r="4.4"/><circle cx="1610.3" cy="1278.2" r="4.4"/><circle cx="1706.2" cy="1281.1" r="4.4"/><circle cx="1753.6" cy="1285.2" r="4.4"/><circle cx="1767.4" cy="1276.1" r="4.4"/><circle cx="1797.3" cy="1290.2" r="4.4"/><circle cx="1928.3" cy="1289.3" r="4.4"/><circle cx="1973.4" cy="1281.1" r="4.4"/><circle cx="1961.1" cy="1300.2" r="4.4"/><circle cx="2061.3" cy="1282.3" r="4.4"/><circle cx="2152.2" cy="1280.2" r="4.4"/><circle cx="2163.3" cy="1279.1" r="4.4"/><circle cx="2212.3" cy="1275.3" r="4.4"/><circle cx="2138.1" cy="1295.2" r="4.4"/><circle cx="2177.4" cy="1311.3" r="4.4"/><circle cx="2102.4" cy="1312.2" r="4.4"/><circle cx="2099.4" cy="1323.3" r="4.4"/><circle cx="2170.3" cy="1327.4" r="4.4"/><circle cx="1719.3" cy="1311.3" r="4.4"/><circle cx="1624.1" cy="1305.1" r="4.4"/><circle cx="1594.5" cy="1327.1" r="4.4"/><circle cx="1638.5" cy="1323.3" r="4.4"/><circle cx="1806.1" cy="1327.1" r="4.4"/><circle cx="1587.5" cy="1339.4" r="4.4"/><circle cx="1903.1" cy="1345.3" r="4.4"/><circle cx="2126.1" cy="1349.4" r="4.4"/><circle cx="2195.6" cy="1364.3" r="4.4"/><circle cx="1751.3" cy="1360.2" r="4.4"/><circle cx="1598.6" cy="1364.3" r="4.4"/><circle cx="1610.3" cy="1372.3" r="4.4"/><circle cx="1636.1" cy="1376.4" r="4.4"/><circle cx="1658.1" cy="1383.1" r="4.4"/><circle cx="1751.3" cy="1383.1" r="4.4"/><circle cx="1817.2" cy="1387.5" r="4.4"/><circle cx="2063.4" cy="1382.2" r="4.4"/><circle cx="2184.4" cy="1388.1" r="4.4"/><circle cx="2177.4" cy="1402.4" r="4.4"/><circle cx="2107.3" cy="1403.3" r="4.4"/><circle cx="1645.2" cy="1398.3" r="4.4"/><circle cx="1640.2" cy="1403.3" r="4.4"/><circle cx="1687.4" cy="1399.2" r="4.4"/><circle cx="1741.3" cy="1397.5" r="4.4"/><circle cx="1714.1" cy="1420.3" r="4.4"/><circle cx="1737.2" cy="1428.2" r="4.4"/><circle cx="1802.3" cy="1429.1" r="4.4"/><circle cx="1840.1" cy="1437.3" r="4.4"/><circle cx="1874.4" cy="1442.3" r="4.4"/><circle cx="2014.4" cy="1441.4" r="4.4"/><circle cx="2158.3" cy="1423.2" r="4.4"/><circle cx="2120.2" cy="1434.4" r="4.4"/><circle cx="1689.5" cy="1443.2" r="4.4"/><circle cx="1719.3" cy="1445.2" r="4.4"/><circle cx="1767.4" cy="1483.3" r="4.4"/><circle cx="1791.4" cy="1484.2" r="4.4"/><circle cx="1832.2" cy="1477.2" r="4.4"/><circle cx="2045.5" cy="1492.1" r="4.4"/><circle cx="2126.1" cy="1517.3" r="4.4"/><circle cx="1722.3" cy="1521.4" r="4.4"/><circle cx="1714.1" cy="1528.2" r="4.4"/><circle cx="1711.4" cy="1539.3" r="4.4"/><circle cx="1771.2" cy="1540.2" r="4.4"/><circle cx="1779.4" cy="1547.2" r="4.4"/><circle cx="1951.4" cy="1539.3" r="4.4"/><circle cx="2076.3" cy="1531.1" r="4.4"/><circle cx="2110.3" cy="1533.1" r="4.4"/><circle cx="2122" cy="1531.1" r="4.4"/><circle cx="2095.3" cy="1542.2" r="4.4"/><circle cx="2108.2" cy="1546.3" r="4.4"/><circle cx="2095.3" cy="1552.2" r="4.4"/><circle cx="2139.3" cy="1552.2" r="4.4"/><circle cx="2153.4" cy="1555.1" r="4.4"/><circle cx="2158.3" cy="1558" r="4.4"/><circle cx="2050.2" cy="1557.2" r="4.4"/><circle cx="2071.3" cy="1558" r="4.4"/><circle cx="1693.3" cy="1552.2" r="4.4"/><circle cx="1713.2" cy="1554.2" r="4.4"/><circle cx="1681.5" cy="1577.1" r="4.4"/><circle cx="1707.3" cy="1576.2" r="4.4"/><circle cx="1744.5" cy="1575" r="4.4"/><circle cx="1728.1" cy="1587.4" r="4.4"/><circle cx="2153.4" cy="1576.2" r="4.4"/><circle cx="2171.2" cy="1575" r="4.4"/><circle cx="2096.2" cy="1581.2" r="4.4"/><circle cx="2159.2" cy="1601.4" r="4.4"/><circle cx="1686.5" cy="1604.4" r="4.4"/><circle cx="2357.3" cy="1270.3" r="4.4"/><circle cx="2405.4" cy="1276.1" r="4.4"/><circle cx="2482.1" cy="1273.5" r="4.4"/><circle cx="2662.4" cy="1272.3" r="4.4"/><circle cx="2722.2" cy="1266.5" r="4.4"/><circle cx="2743.3" cy="1271.4" r="4.4"/><circle cx="2747.1" cy="1286.4" r="4.4"/><circle cx="2790.1" cy="1276.1" r="4.4"/><circle cx="2819.2" cy="1269.4" r="4.4"/><circle cx="2839.4" cy="1273.5" r="4.4"/><circle cx="2893" cy="1279.1" r="4.4"/><circle cx="2899.5" cy="1287.3" r="4.4"/><circle cx="2924.1" cy="1296.4" r="4.4"/><circle cx="2866.3" cy="1297.2" r="4.4"/><circle cx="2461.3" cy="1294.3" r="4.4"/><circle cx="2458.1" cy="1302.2" r="4.4"/><circle cx="2430.3" cy="1310.4" r="4.4"/><circle cx="2450.2" cy="1312.5" r="4.4"/><circle cx="2464.9" cy="1322.4" r="4.4"/><circle cx="2489.2" cy="1304.3" r="4.4"/><circle cx="2500.3" cy="1304.3" r="4.4"/><circle cx="2519.4" cy="1300.2" r="4.4"/><circle cx="2519.4" cy="1309.3" r="4.4"/><circle cx="2495.3" cy="1325.4" r="4.4"/><circle cx="2550.1" cy="1314.2" r="4.4"/><circle cx="2587.4" cy="1296.4" r="4.4"/><circle cx="2622.2" cy="1300.2" r="4.4"/><circle cx="2621.1" cy="1310.4" r="4.4"/><circle cx="2645.1" cy="1300.2" r="4.4"/><circle cx="2644.2" cy="1312.5" r="4.4"/><circle cx="2750.3" cy="1312.5" r="4.4"/><circle cx="2773.4" cy="1324.5" r="4.4"/><circle cx="2897.4" cy="1314.2" r="4.4"/><circle cx="2891.2" cy="1327.4" r="4.4"/><circle cx="2418.3" cy="1328.3" r="4.4"/><circle cx="2544.3" cy="1332.4" r="4.4"/><circle cx="2553.4" cy="1332.4" r="4.4"/><circle cx="2563.3" cy="1328.3" r="4.4"/><circle cx="2571.2" cy="1334.5" r="4.4"/><circle cx="2639.5" cy="1334.2" r="4.4"/><circle cx="2645.1" cy="1333.6" r="4.4"/><circle cx="2659.2" cy="1337.4" r="4.4"/><circle cx="2687" cy="1329.2" r="4.4"/><circle cx="2699.3" cy="1332.4" r="4.4"/><circle cx="2769" cy="1353.5" r="4.4"/><circle cx="2908.2" cy="1361.4" r="4.4"/><circle cx="2469.3" cy="1359.4" r="4.4"/><circle cx="2485.4" cy="1359.4" r="4.4"/><circle cx="2502.4" cy="1367.3" r="4.4"/><circle cx="2518.2" cy="1349.4" r="4.4"/><circle cx="2541.3" cy="1352.3" r="4.4"/><circle cx="2563" cy="1355.3" r="4.4"/><circle cx="2702.2" cy="1358.2" r="4.4"/><circle cx="2646" cy="1371.4" r="4.4"/><circle cx="2397.2" cy="1384.3" r="4.4"/><circle cx="2407.4" cy="1382.2" r="4.4"/><circle cx="2446.4" cy="1387.2" r="4.4"/><circle cx="2489.2" cy="1384.3" r="4.4"/><circle cx="2504.4" cy="1393.4" r="4.4"/><circle cx="2694.9" cy="1384.3" r="4.4"/><circle cx="2716" cy="1386.3" r="4.4"/><circle cx="2677" cy="1396.3" r="4.4"/><circle cx="2752.9" cy="1386.3" r="4.4"/><circle cx="2750.3" cy="1395.4" r="4.4"/><circle cx="2763.2" cy="1394.2" r="4.4"/><circle cx="2454.3" cy="1405.4" r="4.4"/><circle cx="2497.4" cy="1409.2" r="4.4"/><circle cx="2704" cy="1408.3" r="4.4"/><circle cx="2753.2" cy="1412.4" r="4.4"/><circle cx="2408.3" cy="1418.3" r="4.4"/><circle cx="2415.3" cy="1416.5" r="4.4"/><circle cx="2445.2" cy="1418.3" r="4.4"/><circle cx="2545.2" cy="1418.3" r="4.4"/><circle cx="2558" cy="1417.4" r="4.4"/><circle cx="2648" cy="1417.4" r="4.4"/><circle cx="2720.1" cy="1422.4" r="4.4"/><circle cx="2383.1" cy="1434.4" r="4.4"/><circle cx="2467.2" cy="1432.3" r="4.4"/><circle cx="2624.3" cy="1429.4" r="4.4"/><circle cx="2441.1" cy="1449.3" r="4.4"/><circle cx="2420.3" cy="1456.4" r="4.4"/><circle cx="2387.5" cy="1459.3" r="4.4"/><circle cx="2520.2" cy="1452.3" r="4.4"/><circle cx="2533.1" cy="1456.4" r="4.4"/><circle cx="2623.1" cy="1454.3" r="4.4"/><circle cx="2761.1" cy="1445.2" r="4.4"/><circle cx="2783.1" cy="1448.4" r="4.4"/><circle cx="2799.2" cy="1449.3" r="4.4"/><circle cx="2754.1" cy="1455.5" r="4.4"/><circle cx="2431.2" cy="1468.1" r="4.4"/><circle cx="2480.4" cy="1470.4" r="4.4"/><circle cx="2488.3" cy="1469.3" r="4.4"/><circle cx="2460.2" cy="1483.3" r="4.4"/><circle cx="2477.5" cy="1485.1" r="4.4"/><circle cx="2651.2" cy="1477.2" r="4.4"/><circle cx="2742.4" cy="1475.4" r="4.4"/><circle cx="2755.3" cy="1475.4" r="4.4"/><circle cx="2734.2" cy="1482.1" r="4.4"/><circle cx="2542.2" cy="1487.4" r="4.4"/><circle cx="2432.9" cy="1489.5" r="4.4"/><circle cx="2517" cy="1493.3" r="4.4"/><circle cx="2593.2" cy="1491.2" r="4.4"/><circle cx="2613.1" cy="1494.2" r="4.4"/><circle cx="2694" cy="1487.4" r="4.4"/><circle cx="2732.4" cy="1491.2" r="4.4"/><circle cx="2430" cy="1503.2" r="4.4"/><circle cx="2480.4" cy="1503.2" r="4.4"/><circle cx="2462.2" cy="1507.4" r="4.4"/><circle cx="2499.1" cy="1506.5" r="4.4"/><circle cx="2660" cy="1507.4" r="4.4"/><circle cx="2705.2" cy="1504.4" r="4.4"/><circle cx="2717.2" cy="1501.2" r="4.4"/><circle cx="2412.4" cy="1511.2" r="4.4"/><circle cx="2418.3" cy="1515.3" r="4.4"/><circle cx="2566.8" cy="1508.2" r="4.4"/><circle cx="2591.2" cy="1513.2" r="4.4"/><circle cx="2604.9" cy="1511.2" r="4.4"/><circle cx="2754.1" cy="1511.2" r="4.4"/><circle cx="2729.2" cy="1514.1" r="4.4"/><circle cx="2779.3" cy="1514.1" r="4.4"/><circle cx="2478.9" cy="1517.3" r="4.4"/><circle cx="2526.1" cy="1512.3" r="4.4"/><circle cx="2541.3" cy="1514.4" r="4.4"/><circle cx="2539.3" cy="1524.3" r="4.4"/><circle cx="2554.2" cy="1526.1" r="4.4"/><circle cx="2565.1" cy="1523.2" r="4.4"/><circle cx="2692" cy="1525.2" r="4.4"/><circle cx="2448.4" cy="1527.3" r="4.4"/><circle cx="2468.1" cy="1533.1" r="4.4"/><circle cx="2468.1" cy="1539.3" r="4.4"/><circle cx="2722.2" cy="1532.3" r="4.4"/><circle cx="2447.3" cy="1543.1" r="4.4"/><circle cx="2738.3" cy="1556.3" r="4.4"/><circle cx="2771.4" cy="1563.3" r="4.4"/><circle cx="2390.1" cy="1568.3" r="4.4"/><circle cx="2423.2" cy="1575" r="4.4"/><circle cx="2789.3" cy="1577.1" r="4.4"/><circle cx="2735.9" cy="1586.2" r="4.4"/><circle cx="2773.4" cy="1597.3" r="4.4"/>
</g>
<g fill="#10f010">
<circle cx="835.1" cy="567.2" r="4.4"/><circle cx="837.4" cy="576.1" r="4.4"/><circle cx="835.9" cy="583.3" r="4.4"/><circle cx="848.8" cy="578.1" r="4.4"/><circle cx="806.4" cy="585.3" r="4.4"/><circle cx="924.9" cy="576.7" r="4.4"/><circle cx="936.9" cy="566" r="4.4"/><circle cx="936.9" cy="576.7" r="4.4"/><circle cx="932.6" cy="581.8" r="4.4"/><circle cx="923.4" cy="581.8" r="4.4"/><circle cx="1016.1" cy="553.1" r="4.4"/><circle cx="1057.8" cy="552.3" r="4.4"/><circle cx="1013.3" cy="585.3" r="4.4"/><circle cx="1028.2" cy="593.3" r="4.4"/><circle cx="1072.7" cy="588.1" r="4.4"/><circle cx="1088.5" cy="591" r="4.4"/><circle cx="945" cy="601.1" r="4.4"/><circle cx="840.2" cy="608.2" r="4.4"/><circle cx="795.7" cy="610.5" r="4.4"/><circle cx="791.4" cy="612.5" r="4.4"/><circle cx="827.3" cy="614" r="4.4"/><circle cx="907.7" cy="611.7" r="4.4"/><circle cx="921.4" cy="606.2" r="4.4"/><circle cx="939.2" cy="614" r="4.4"/><circle cx="931.5" cy="619.7" r="4.4"/><circle cx="910.5" cy="624.6" r="4.4"/><circle cx="955" cy="619.1" r="4.4"/><circle cx="804.3" cy="629.2" r="4.4"/><circle cx="811.5" cy="638.9" r="4.4"/><circle cx="940.7" cy="633.5" r="4.4"/><circle cx="1084.2" cy="618.3" r="4.4"/><circle cx="1116.3" cy="616.3" r="4.4"/><circle cx="1043.1" cy="634.1" r="4.4"/><circle cx="1061.2" cy="639.2" r="4.4"/><circle cx="1070.7" cy="639.2" r="4.4"/><circle cx="1077.8" cy="634.1" r="4.4"/><circle cx="1140.1" cy="610.2" r="4.4"/><circle cx="1138.1" cy="632" r="4.4"/><circle cx="1150.2" cy="639.8" r="4.4"/><circle cx="1168.8" cy="611.1" r="4.4"/><circle cx="1181.7" cy="608.2" r="4.4"/><circle cx="1191.8" cy="632.6" r="4.4"/><circle cx="1176.3" cy="567.2" r="4.4"/><circle cx="1179.4" cy="576.7" r="4.4"/><circle cx="1178.9" cy="583.8" r="4.4"/><circle cx="1190.3" cy="578.1" r="4.4"/><circle cx="1278.4" cy="567.2" r="4.4"/><circle cx="1277.9" cy="577.2" r="4.4"/><circle cx="1266.4" cy="578.1" r="4.4"/><circle cx="1274.4" cy="583" r="4.4"/><circle cx="1357.4" cy="553.1" r="4.4"/><circle cx="1401.3" cy="552.3" r="4.4"/><circle cx="1355.1" cy="585.3" r="4.4"/><circle cx="1349.6" cy="592.4" r="4.4"/><circle cx="1362.5" cy="590.4" r="4.4"/><circle cx="1369.7" cy="593.3" r="4.4"/><circle cx="1374" cy="591" r="4.4"/><circle cx="1429.4" cy="591" r="4.4"/><circle cx="1286.5" cy="600.5" r="4.4"/><circle cx="1244.9" cy="611.7" r="4.4"/><circle cx="1259.8" cy="608.8" r="4.4"/><circle cx="1254.3" cy="619.1" r="4.4"/><circle cx="1279.3" cy="614" r="4.4"/><circle cx="1296.5" cy="619.1" r="4.4"/><circle cx="1248.6" cy="632.6" r="4.4"/><circle cx="1281.3" cy="633.5" r="4.4"/><circle cx="1405.6" cy="603.9" r="4.4"/><circle cx="1401.3" cy="611.1" r="4.4"/><circle cx="1379.8" cy="623.4" r="4.4"/><circle cx="1432.3" cy="616.8" r="4.4"/><circle cx="1455.2" cy="619.1" r="4.4"/><circle cx="1466.4" cy="614" r="4.4"/><circle cx="1421.4" cy="635.5" r="4.4"/><circle cx="1476.5" cy="651.3" r="4.4"/><circle cx="1476.5" cy="658.4" r="4.4"/><circle cx="912.5" cy="659.3" r="4.4"/><circle cx="936.1" cy="663.9" r="4.4"/><circle cx="817.3" cy="669.9" r="4.4"/><circle cx="875.5" cy="669.9" r="4.4"/><circle cx="807.8" cy="698.9" r="4.4"/><circle cx="906.2" cy="695.2" r="4.4"/><circle cx="942.1" cy="691.5" r="4.4"/><circle cx="932.6" cy="698.6" r="4.4"/><circle cx="970.2" cy="696.3" r="4.4"/><circle cx="988" cy="697.2" r="4.4"/><circle cx="979.4" cy="705.2" r="4.4"/><circle cx="988" cy="705.8" r="4.4"/><circle cx="995.2" cy="677.1" r="4.4"/><circle cx="1026.2" cy="693.5" r="4.4"/><circle cx="1035.4" cy="710.1" r="4.4"/><circle cx="1098.5" cy="671.4" r="4.4"/><circle cx="1097.1" cy="677.1" r="4.4"/><circle cx="1092.8" cy="684.9" r="4.4"/><circle cx="1122.9" cy="677.1" r="4.4"/><circle cx="1095.6" cy="695.2" r="4.4"/><circle cx="1101.4" cy="694.3" r="4.4"/><circle cx="1098.5" cy="706.7" r="4.4"/><circle cx="1130.1" cy="705.2" r="4.4"/><circle cx="1135.8" cy="703.8" r="4.4"/><circle cx="1178.3" cy="665" r="4.4"/><circle cx="1180.3" cy="690" r="4.4"/><circle cx="1183.2" cy="695.2" r="4.4"/><circle cx="1192.6" cy="690.9" r="4.4"/><circle cx="1162.2" cy="702.9" r="4.4"/><circle cx="1173.7" cy="706.7" r="4.4"/><circle cx="1219.6" cy="678" r="4.4"/><circle cx="1213.3" cy="693.5" r="4.4"/><circle cx="1246.3" cy="693.5" r="4.4"/><circle cx="1252" cy="690" r="4.4"/><circle cx="1310.3" cy="697.2" r="4.4"/><circle cx="1314.3" cy="705.8" r="4.4"/><circle cx="1364.8" cy="707.2" r="4.4"/><circle cx="1376.3" cy="710.1" r="4.4"/><circle cx="1368.3" cy="689.4" r="4.4"/><circle cx="1367.7" cy="694.3" r="4.4"/><circle cx="1383.2" cy="688.6" r="4.4"/><circle cx="1438.6" cy="678" r="4.4"/><circle cx="1436.6" cy="685.7" r="4.4"/><circle cx="1436.6" cy="694.3" r="4.4"/><circle cx="1439.2" cy="707.8" r="4.4"/><circle cx="1451.5" cy="694.9" r="4.4"/><circle cx="1459.2" cy="677.7" r="4.4"/><circle cx="1468.1" cy="688.6" r="4.4"/><circle cx="1468.7" cy="704.4" r="4.4"/><circle cx="1475.9" cy="705.2" r="4.4"/><circle cx="1140.1" cy="717.3" r="4.4"/><circle cx="796.3" cy="732.2" r="4.4"/><circle cx="849.4" cy="728.5" r="4.4"/><circle cx="869.5" cy="725.6" r="4.4"/><circle cx="894.2" cy="726.5" r="4.4"/><circle cx="923.4" cy="727.3" r="4.4"/><circle cx="857.4" cy="740.3" r="4.4"/><circle cx="864" cy="747.1" r="4.4"/><circle cx="864" cy="755.2" r="4.4"/><circle cx="883.3" cy="740.3" r="4.4"/><circle cx="889" cy="746.6" r="4.4"/><circle cx="897.6" cy="740.8" r="4.4"/><circle cx="907.7" cy="743.7" r="4.4"/><circle cx="891" cy="754.3" r="4.4"/><circle cx="897.6" cy="756" r="4.4"/><circle cx="907.7" cy="755.2" r="4.4"/><circle cx="805.8" cy="763.8" r="4.4"/><circle cx="807.2" cy="765.8" r="4.4"/><circle cx="943" cy="740.3" r="4.4"/><circle cx="951.6" cy="740" r="4.4"/><circle cx="962.2" cy="750.3" r="4.4"/><circle cx="939.2" cy="757.5" r="4.4"/><circle cx="973.7" cy="760.9" r="4.4"/><circle cx="965.1" cy="764.6" r="4.4"/><circle cx="992.3" cy="737.1" r="4.4"/><circle cx="1002.4" cy="737.1" r="4.4"/><circle cx="992.3" cy="747.4" r="4.4"/><circle cx="996.6" cy="748.6" r="4.4"/><circle cx="994.3" cy="760.9" r="4.4"/><circle cx="1018.2" cy="747.1" r="4.4"/><circle cx="1024.8" cy="740.3" r="4.4"/><circle cx="1029.6" cy="753.2" r="4.4"/><circle cx="1029.6" cy="758" r="4.4"/><circle cx="1099.4" cy="736.5" r="4.4"/><circle cx="1097.1" cy="740.8" r="4.4"/><circle cx="1095.6" cy="746.6" r="4.4"/><circle cx="1092.8" cy="751.4" r="4.4"/><circle cx="1088.5" cy="758" r="4.4"/><circle cx="1097.1" cy="758" r="4.4"/><circle cx="1077" cy="765.8" r="4.4"/><circle cx="1085.6" cy="768.1" r="4.4"/><circle cx="1091.3" cy="772.4" r="4.4"/><circle cx="1106.5" cy="754.3" r="4.4"/><circle cx="1109.4" cy="733.1" r="4.4"/><circle cx="1125.2" cy="733.1" r="4.4"/><circle cx="1121.5" cy="760.1" r="4.4"/><circle cx="1119.5" cy="764.6" r="4.4"/><circle cx="1151.6" cy="741.4" r="4.4"/><circle cx="1168.8" cy="735.1" r="4.4"/><circle cx="1189.8" cy="728.5" r="4.4"/><circle cx="1210.4" cy="725.6" r="4.4"/><circle cx="1235.7" cy="726.5" r="4.4"/><circle cx="1187.5" cy="740.8" r="4.4"/><circle cx="1187.5" cy="747.4" r="4.4"/><circle cx="1187.5" cy="755.2" r="4.4"/><circle cx="1211.9" cy="742.3" r="4.4"/><circle cx="1211.9" cy="749.4" r="4.4"/><circle cx="1207.6" cy="754.3" r="4.4"/><circle cx="1240.6" cy="740.8" r="4.4"/><circle cx="1246.3" cy="747.4" r="4.4"/><circle cx="1246.3" cy="755.2" r="4.4"/><circle cx="1316.6" cy="733.1" r="4.4"/><circle cx="1331.5" cy="737.1" r="4.4"/><circle cx="1343.3" cy="738" r="4.4"/><circle cx="1365.4" cy="740.3" r="4.4"/><circle cx="1315.2" cy="760.9" r="4.4"/><circle cx="1337.3" cy="763.2" r="4.4"/><circle cx="1372.6" cy="753.7" r="4.4"/><circle cx="1418.5" cy="765.2" r="4.4"/><circle cx="1441.5" cy="733.1" r="4.4"/><circle cx="1451.5" cy="733.1" r="4.4"/><circle cx="1465.9" cy="733.1" r="4.4"/><circle cx="1435.7" cy="737.1" r="4.4"/><circle cx="1432.8" cy="742.8" r="4.4"/><circle cx="1430" cy="746.6" r="4.4"/><circle cx="1435.7" cy="757.5" r="4.4"/><circle cx="1440" cy="768.1" r="4.4"/><circle cx="1461.5" cy="749.4" r="4.4"/><circle cx="1463" cy="765.2" r="4.4"/><circle cx="1468.7" cy="765.8" r="4.4"/><circle cx="1475.3" cy="768.7" r="4.4"/><circle cx="803.8" cy="783.9" r="4.4"/><circle cx="817.3" cy="797.4" r="4.4"/><circle cx="802.1" cy="809.7" r="4.4"/><circle cx="821" cy="823.2" r="4.4"/><circle cx="825.9" cy="822.6" r="4.4"/><circle cx="831.6" cy="829.8" r="4.4"/><circle cx="841.7" cy="822.6" r="4.4"/><circle cx="847.4" cy="821.2" r="4.4"/><circle cx="844.5" cy="827.8" r="4.4"/><circle cx="843.1" cy="835.5" r="4.4"/><circle cx="842.2" cy="842.7" r="4.4"/><circle cx="901.9" cy="798.8" r="4.4"/><circle cx="923.4" cy="809.7" r="4.4"/><circle cx="911.1" cy="816" r="4.4"/><circle cx="898.2" cy="824.9" r="4.4"/><circle cx="910.5" cy="825.5" r="4.4"/><circle cx="912" cy="835.5" r="4.4"/><circle cx="930.6" cy="823.2" r="4.4"/><circle cx="937.8" cy="824.1" r="4.4"/><circle cx="934.9" cy="835.5" r="4.4"/><circle cx="1017.6" cy="795.4" r="4.4"/><circle cx="1034.8" cy="791.9" r="4.4"/><circle cx="1055.5" cy="795.4" r="4.4"/><circle cx="1036.8" cy="806" r="4.4"/><circle cx="1036.2" cy="816" r="4.4"/><circle cx="1028.2" cy="817.5" r="4.4"/><circle cx="1075.6" cy="802" r="4.4"/><circle cx="1077" cy="816.3" r="4.4"/><circle cx="1098.5" cy="791.9" r="4.4"/><circle cx="1127.8" cy="788.2" r="4.4"/><circle cx="1028.2" cy="841.3" r="4.4"/><circle cx="1008.1" cy="849.3" r="4.4"/><circle cx="1012.4" cy="857.1" r="4.4"/><circle cx="1022.5" cy="849.9" r="4.4"/><circle cx="1085.6" cy="840.4" r="4.4"/><circle cx="1091.3" cy="844.7" r="4.4"/><circle cx="1099.9" cy="849.3" r="4.4"/><circle cx="1160.2" cy="798.2" r="4.4"/><circle cx="1171.7" cy="798.2" r="4.4"/><circle cx="1171.7" cy="824.6" r="4.4"/><circle cx="1179.7" cy="818.3" r="4.4"/><circle cx="1187.5" cy="821.2" r="4.4"/><circle cx="1244.9" cy="800.2" r="4.4"/><circle cx="1239.1" cy="826.4" r="4.4"/><circle cx="1250.6" cy="822.6" r="4.4"/><circle cx="1258.4" cy="827.5" r="4.4"/><circle cx="1270.7" cy="822.6" r="4.4"/><circle cx="1277.9" cy="827.8" r="4.4"/><circle cx="1296.5" cy="799.1" r="4.4"/><circle cx="1397" cy="793.1" r="4.4"/><circle cx="1385.5" cy="802.5" r="4.4"/><circle cx="1412.8" cy="798.8" r="4.4"/><circle cx="1440" cy="791.9" r="4.4"/><circle cx="1458.1" cy="822" r="4.4"/><circle cx="1369.7" cy="842.1" r="4.4"/><circle cx="1383.5" cy="844.1" r="4.4"/><circle cx="1394.1" cy="836.4" r="4.4"/><circle cx="1427.1" cy="838.4" r="4.4"/><circle cx="1428.5" cy="844.1" r="4.4"/><circle cx="1351.1" cy="849.9" r="4.4"/><circle cx="1352.5" cy="858.5" r="4.4"/><circle cx="1361.1" cy="849.9" r="4.4"/><circle cx="1367.7" cy="854.2" r="4.4"/><circle cx="1441.5" cy="849.9" r="4.4"/><circle cx="1431.4" cy="854.2" r="4.4"/><circle cx="1429.4" cy="859.9" r="4.4"/><circle cx="834.5" cy="870" r="4.4"/><circle cx="936.4" cy="865.7" r="4.4"/><circle cx="937.8" cy="888.6" r="4.4"/><circle cx="844.5" cy="901.5" r="4.4"/><circle cx="1176" cy="868.5" r="4.4"/><circle cx="1186" cy="900.1" r="4.4"/><circle cx="1277.9" cy="888.6" r="4.4"/><circle cx="1270.7" cy="896.4" r="4.4"/><circle cx="1036.8" cy="882.3" r="4.4"/><circle cx="1051.2" cy="884.3" r="4.4"/><circle cx="1378.3" cy="882.3" r="4.4"/><circle cx="1392.7" cy="884.3" r="4.4"/><circle cx="1407" cy="881.5" r="4.4"/><circle cx="158.2" cy="916.5" r="4.4"/><circle cx="49.9" cy="928.4" r="4.4"/><circle cx="144.1" cy="943.4" r="4.4"/><circle cx="151.6" cy="964.3" r="4.4"/><circle cx="159.1" cy="955.3" r="4.4"/><circle cx="166.6" cy="950.3" r="4.4"/><circle cx="250.3" cy="950.8" r="4.4"/><circle cx="256.3" cy="953.2" r="4.4"/><circle cx="251.8" cy="955.3" r="4.4"/><circle cx="335" cy="925.4" r="4.4"/><circle cx="375.9" cy="925.4" r="4.4"/><circle cx="398.4" cy="920.3" r="4.4"/><circle cx="331.1" cy="957.7" r="4.4"/><circle cx="326.6" cy="965.2" r="4.4"/><circle cx="347.5" cy="965.8" r="4.4"/><circle cx="364" cy="963.4" r="4.4"/><circle cx="392.4" cy="959.8" r="4.4"/><circle cx="411.8" cy="953.2" r="4.4"/><circle cx="421.4" cy="948.5" r="4.4"/><circle cx="419.9" cy="955.3" r="4.4"/><circle cx="422.3" cy="961.3" r="4.4"/><circle cx="411.8" cy="961.3" r="4.4"/><circle cx="499.2" cy="916.5" r="4.4"/><circle cx="593.7" cy="917.9" r="4.4"/><circle cx="594.9" cy="941.3" r="4.4"/><circle cx="595.8" cy="949.4" r="4.4"/><circle cx="593.7" cy="953.8" r="4.4"/><circle cx="597.9" cy="954.7" r="4.4"/><circle cx="500.1" cy="956.2" r="4.4"/><circle cx="492" cy="964.3" r="4.4"/><circle cx="609.3" cy="961.3" r="4.4"/><circle cx="602.7" cy="968.8" r="4.4"/><circle cx="603.3" cy="971.8" r="4.4"/><circle cx="692.4" cy="920.3" r="4.4"/><circle cx="691.5" cy="928.4" r="4.4"/><circle cx="672.1" cy="957.4" r="4.4"/><circle cx="681" cy="957.4" r="4.4"/><circle cx="687" cy="965.2" r="4.4"/><circle cx="693" cy="964.3" r="4.4"/><circle cx="746.8" cy="953.8" r="4.4"/><circle cx="751.3" cy="955.3" r="4.4"/><circle cx="756.4" cy="954.4" r="4.4"/><circle cx="743.9" cy="961.3" r="4.4"/><circle cx="749.8" cy="962.8" r="4.4"/><circle cx="52.9" cy="959.2" r="4.4"/><circle cx="72.3" cy="955.3" r="4.4"/><circle cx="78.3" cy="955.3" r="4.4"/><circle cx="70.8" cy="961.3" r="4.4"/><circle cx="51.4" cy="968.2" r="4.4"/><circle cx="55.9" cy="968.2" r="4.4"/><circle cx="69.4" cy="976.3" r="4.4"/><circle cx="118.7" cy="979.3" r="4.4"/><circle cx="146.5" cy="986.7" r="4.4"/><circle cx="160.6" cy="992.1" r="4.4"/><circle cx="121.7" cy="1001.7" r="4.4"/><circle cx="127.7" cy="1011.3" r="4.4"/><circle cx="135.2" cy="1013.1" r="4.4"/><circle cx="224.9" cy="980.2" r="4.4"/><circle cx="242.8" cy="978.4" r="4.4"/><circle cx="233" cy="987.6" r="4.4"/><circle cx="243.4" cy="989.7" r="4.4"/><circle cx="257.2" cy="986.7" r="4.4"/><circle cx="226.4" cy="996.3" r="4.4"/><circle cx="224.9" cy="1006.2" r="4.4"/><circle cx="229.4" cy="1010.1" r="4.4"/><circle cx="224.9" cy="1012.2" r="4.4"/><circle cx="232.4" cy="1010.7" r="4.4"/><circle cx="257.8" cy="1006.2" r="4.4"/><circle cx="268.3" cy="973.3" r="4.4"/><circle cx="192" cy="1013.1" r="4.4"/><circle cx="55.3" cy="1012.2" r="4.4"/><circle cx="342.4" cy="980.2" r="4.4"/><circle cx="378.9" cy="984.4" r="4.4"/><circle cx="358" cy="995.7" r="4.4"/><circle cx="395.4" cy="1005.3" r="4.4"/><circle cx="425.9" cy="990.3" r="4.4"/><circle cx="498.6" cy="979.3" r="4.4"/><circle cx="515" cy="993.3" r="4.4"/><circle cx="564.4" cy="985.2" r="4.4"/><circle cx="570.4" cy="985.2" r="4.4"/><circle cx="583.8" cy="978.4" r="4.4"/><circle cx="585.3" cy="985.2" r="4.4"/><circle cx="567.4" cy="989.7" r="4.4"/><circle cx="570.4" cy="995.7" r="4.4"/><circle cx="576.4" cy="998.7" r="4.4"/><circle cx="567.4" cy="1004.7" r="4.4"/><circle cx="574.9" cy="1005.3" r="4.4"/><circle cx="580.8" cy="1004.1" r="4.4"/><circle cx="600.3" cy="985.2" r="4.4"/><circle cx="604.8" cy="985.2" r="4.4"/><circle cx="613.7" cy="992.1" r="4.4"/><circle cx="719.9" cy="983.8" r="4.4"/><circle cx="739.4" cy="994.8" r="4.4"/><circle cx="728.9" cy="1011.3" r="4.4"/><circle cx="733.4" cy="1009.2" r="4.4"/><circle cx="467.8" cy="1011.6" r="4.4"/><circle cx="650.5" cy="1017.3" r="4.4"/><circle cx="447.1" cy="1023.2" r="4.4"/><circle cx="106.7" cy="1024.1" r="4.4"/><circle cx="106.7" cy="1029.2" r="4.4"/><circle cx="113.3" cy="1036.1" r="4.4"/><circle cx="136.7" cy="1023.5" r="4.4"/><circle cx="133.1" cy="1031.6" r="4.4"/><circle cx="156.1" cy="1033.1" r="4.4"/><circle cx="135.2" cy="1043.6" r="4.4"/><circle cx="47.5" cy="1037.6" r="4.4"/><circle cx="78.3" cy="1050.2" r="4.4"/><circle cx="96.3" cy="1051.1" r="4.4"/><circle cx="51.4" cy="1063.9" r="4.4"/><circle cx="100.8" cy="1068.4" r="4.4"/><circle cx="130.7" cy="1074.1" r="4.4"/><circle cx="232.4" cy="1031.6" r="4.4"/><circle cx="253.3" cy="1031.6" r="4.4"/><circle cx="253.3" cy="1037" r="4.4"/><circle cx="291" cy="1037.6" r="4.4"/><circle cx="164.5" cy="1068.1" r="4.4"/><circle cx="153.1" cy="1070.5" r="4.4"/><circle cx="149.2" cy="1078.6" r="4.4"/><circle cx="186" cy="1053.4" r="4.4"/><circle cx="199.5" cy="1051.1" r="4.4"/><circle cx="186" cy="1069" r="4.4"/><circle cx="192" cy="1069.6" r="4.4"/><circle cx="217.4" cy="1077.4" r="4.4"/><circle cx="223.4" cy="1077.4" r="4.4"/><circle cx="229.4" cy="1077.4" r="4.4"/><circle cx="225.8" cy="1069.9" r="4.4"/><circle cx="232.4" cy="1069.9" r="4.4"/><circle cx="259.3" cy="1069.6" r="4.4"/><circle cx="287.7" cy="1069.6" r="4.4"/><circle cx="313.1" cy="1049" r="4.4"/><circle cx="311.6" cy="1078.6" r="4.4"/><circle cx="341.5" cy="1053.4" r="4.4"/><circle cx="346" cy="1055.5" r="4.4"/><circle cx="343" cy="1063" r="4.4"/><circle cx="338.6" cy="1067.5" r="4.4"/><circle cx="344.5" cy="1064.5" r="4.4"/><circle cx="338.6" cy="1077.4" r="4.4"/><circle cx="346" cy="1078.6" r="4.4"/><circle cx="352.6" cy="1079.5" r="4.4"/><circle cx="417.8" cy="1050.5" r="4.4"/><circle cx="438.8" cy="1047.2" r="4.4"/><circle cx="419.9" cy="1066" r="4.4"/><circle cx="419.9" cy="1078.6" r="4.4"/><circle cx="481.5" cy="1073.5" r="4.4"/><circle cx="460.3" cy="1089.9" r="4.4"/><circle cx="569.8" cy="1031.6" r="4.4"/><circle cx="569.8" cy="1040" r="4.4"/><circle cx="536" cy="1051.1" r="4.4"/><circle cx="540.5" cy="1052" r="4.4"/><circle cx="508.2" cy="1067.5" r="4.4"/><circle cx="534.5" cy="1067.5" r="4.4"/><circle cx="547.9" cy="1069" r="4.4"/><circle cx="562.9" cy="1068.4" r="4.4"/><circle cx="560.8" cy="1077.1" r="4.4"/><circle cx="597.3" cy="1069" r="4.4"/><circle cx="597.3" cy="1077.4" r="4.4"/><circle cx="622.7" cy="1069.6" r="4.4"/><circle cx="630.2" cy="1069.6" r="4.4"/><circle cx="653.5" cy="1072.6" r="4.4"/><circle cx="679.5" cy="1078.6" r="4.4"/><circle cx="687" cy="1056.4" r="4.4"/><circle cx="684" cy="1064.5" r="4.4"/><circle cx="756.4" cy="1051.1" r="4.4"/><circle cx="118.7" cy="1089" r="4.4"/><circle cx="241.9" cy="1096.5" r="4.4"/><circle cx="842.3" cy="912.6" r="4.4"/><circle cx="929" cy="911.4" r="4.4"/><circle cx="825.8" cy="941.9" r="4.4"/><circle cx="834.8" cy="938.9" r="4.4"/><circle cx="848.2" cy="950.3" r="4.4"/><circle cx="840.8" cy="956.2" r="4.4"/><circle cx="833.3" cy="963.4" r="4.4"/><circle cx="932" cy="953.8" r="4.4"/><circle cx="938" cy="953.2" r="4.4"/><circle cx="764.5" cy="957.7" r="4.4"/><circle cx="1014.2" cy="958.3" r="4.4"/><circle cx="1028.3" cy="965.2" r="4.4"/><circle cx="1073.2" cy="960.4" r="4.4"/><circle cx="1088.1" cy="962.8" r="4.4"/><circle cx="1106.1" cy="959.2" r="4.4"/><circle cx="1183.2" cy="912.6" r="4.4"/><circle cx="1175.8" cy="938.3" r="4.4"/><circle cx="1189.8" cy="950.3" r="4.4"/><circle cx="1181.8" cy="956.2" r="4.4"/><circle cx="1174.3" cy="963.7" r="4.4"/><circle cx="1278.4" cy="953.8" r="4.4"/><circle cx="1283.5" cy="967.3" r="4.4"/><circle cx="1285.8" cy="971.8" r="4.4"/><circle cx="1354.6" cy="956.8" r="4.4"/><circle cx="1348.7" cy="965.2" r="4.4"/><circle cx="1370.2" cy="965.2" r="4.4"/><circle cx="1376.2" cy="963.4" r="4.4"/><circle cx="1389" cy="969.4" r="4.4"/><circle cx="1403.1" cy="976.3" r="4.4"/><circle cx="1401.6" cy="983.2" r="4.4"/><circle cx="1429.1" cy="963.4" r="4.4"/><circle cx="1441.4" cy="956.2" r="4.4"/><circle cx="1403.7" cy="927.5" r="4.4"/><circle cx="793.5" cy="985.2" r="4.4"/><circle cx="813.2" cy="985.2" r="4.4"/><circle cx="827.3" cy="986.7" r="4.4"/><circle cx="840.2" cy="980.2" r="4.4"/><circle cx="809.4" cy="1011.3" r="4.4"/><circle cx="815.3" cy="1010.1" r="4.4"/><circle cx="917" cy="978.4" r="4.4"/><circle cx="923" cy="978.4" r="4.4"/><circle cx="908.1" cy="985.2" r="4.4"/><circle cx="938" cy="986.1" r="4.4"/><circle cx="945.5" cy="973.3" r="4.4"/><circle cx="932" cy="992.1" r="4.4"/><circle cx="955.9" cy="992.7" r="4.4"/><circle cx="910.5" cy="997.2" r="4.4"/><circle cx="939.5" cy="1005.3" r="4.4"/><circle cx="1084.5" cy="991.2" r="4.4"/><circle cx="1115" cy="989.1" r="4.4"/><circle cx="1061.5" cy="1011.6" r="4.4"/><circle cx="1071.1" cy="1011.3" r="4.4"/><circle cx="1141.4" cy="983.2" r="4.4"/><circle cx="1139.3" cy="1004.1" r="4.4"/><circle cx="1150.3" cy="1011.6" r="4.4"/><circle cx="1128.8" cy="1022" r="4.4"/><circle cx="1167.4" cy="984.6" r="4.4"/><circle cx="1181.8" cy="980.2" r="4.4"/><circle cx="1191.6" cy="1005.3" r="4.4"/><circle cx="1244.6" cy="983.8" r="4.4"/><circle cx="1248.2" cy="983.2" r="4.4"/><circle cx="1266.1" cy="978.4" r="4.4"/><circle cx="1266.1" cy="986.1" r="4.4"/><circle cx="1279.9" cy="986.1" r="4.4"/><circle cx="1255" cy="991.2" r="4.4"/><circle cx="1296" cy="992.1" r="4.4"/><circle cx="1419.5" cy="995.1" r="4.4"/><circle cx="1418.1" cy="1007.7" r="4.4"/><circle cx="1387.5" cy="1009.2" r="4.4"/><circle cx="1455.4" cy="992.1" r="4.4"/><circle cx="1466.5" cy="987.3" r="4.4"/><circle cx="1476.4" cy="1023.5" r="4.4"/><circle cx="1476.4" cy="1030.7" r="4.4"/><circle cx="789.3" cy="1030.1" r="4.4"/><circle cx="801.9" cy="1046" r="4.4"/><circle cx="817.4" cy="1043.6" r="4.4"/><circle cx="779.4" cy="1050.2" r="4.4"/><circle cx="913.1" cy="1031.6" r="4.4"/><circle cx="936.5" cy="1032.5" r="4.4"/><circle cx="937.1" cy="1037.6" r="4.4"/><circle cx="972.4" cy="1037.6" r="4.4"/><circle cx="875.2" cy="1043.6" r="4.4"/><circle cx="870.1" cy="1052.5" r="4.4"/><circle cx="882.6" cy="1051.1" r="4.4"/><circle cx="863.2" cy="1069" r="4.4"/><circle cx="889.2" cy="1068.4" r="4.4"/><circle cx="903.6" cy="1068.4" r="4.4"/><circle cx="901.2" cy="1078.6" r="4.4"/><circle cx="944" cy="1069.6" r="4.4"/><circle cx="943.1" cy="1077.4" r="4.4"/><circle cx="969.4" cy="1069.6" r="4.4"/><circle cx="988.8" cy="1069.9" r="4.4"/><circle cx="1007.7" cy="1078" r="4.4"/><circle cx="1021.1" cy="1077.4" r="4.4"/><circle cx="1026.2" cy="1058.5" r="4.4"/><circle cx="1025.6" cy="1064.5" r="4.4"/><circle cx="832.7" cy="1078.6" r="4.4"/><circle cx="802.8" cy="1089" r="4.4"/><circle cx="1092.6" cy="1057.9" r="4.4"/><circle cx="1095.6" cy="1067.5" r="4.4"/><circle cx="1103.1" cy="1079.5" r="4.4"/><circle cx="1122.8" cy="1050.5" r="4.4"/><circle cx="1118.9" cy="1069.6" r="4.4"/><circle cx="1125.5" cy="1069.6" r="4.4"/><circle cx="1129.4" cy="1077.4" r="4.4"/><circle cx="1142.3" cy="1089.9" r="4.4"/><circle cx="1162.3" cy="1075.9" r="4.4"/><circle cx="1173.7" cy="1078.6" r="4.4"/><circle cx="1187.7" cy="1067.5" r="4.4"/><circle cx="1207.2" cy="1068.4" r="4.4"/><circle cx="1214.1" cy="1066.6" r="4.4"/><circle cx="1245.5" cy="1067.5" r="4.4"/><circle cx="1253.5" cy="1031.6" r="4.4"/><circle cx="1279" cy="1069" r="4.4"/><circle cx="1308.3" cy="1071.1" r="4.4"/><circle cx="1361.2" cy="1078.6" r="4.4"/><circle cx="1365.7" cy="1065.4" r="4.4"/><circle cx="1440.5" cy="1043" r="4.4"/><circle cx="1438.4" cy="1051.1" r="4.4"/><circle cx="1439" cy="1064.5" r="4.4"/><circle cx="1436.6" cy="1068.4" r="4.4"/><circle cx="1442.6" cy="1078.6" r="4.4"/><circle cx="1459.9" cy="1051.1" r="4.4"/><circle cx="1475.8" cy="1077.1" r="4.4"/><circle cx="1474.3" cy="1086" r="4.4"/><circle cx="1264" cy="1096.5" r="4.4"/><circle cx="761.5" cy="1078" r="4.4"/><circle cx="144.1" cy="1104.5" r="4.4"/><circle cx="242.8" cy="1103" r="4.4"/><circle cx="591.9" cy="1103.6" r="4.4"/><circle cx="71.4" cy="1114.4" r="4.4"/><circle cx="54.4" cy="1122.4" r="4.4"/><circle cx="93.3" cy="1120.3" r="4.4"/><circle cx="70.8" cy="1129.9" r="4.4"/><circle cx="99.3" cy="1133.5" r="4.4"/><circle cx="57.4" cy="1138.3" r="4.4"/><circle cx="76.8" cy="1141.3" r="4.4"/><circle cx="55.9" cy="1146.4" r="4.4"/><circle cx="126.2" cy="1135.3" r="4.4"/><circle cx="130.7" cy="1135.9" r="4.4"/><circle cx="165.1" cy="1113.5" r="4.4"/><circle cx="174" cy="1113.5" r="4.4"/><circle cx="165.1" cy="1119.4" r="4.4"/><circle cx="181.5" cy="1119.4" r="4.4"/><circle cx="160.6" cy="1129" r="4.4"/><circle cx="181.5" cy="1128.4" r="4.4"/><circle cx="198" cy="1112" r="4.4"/><circle cx="225.8" cy="1113.5" r="4.4"/><circle cx="225.8" cy="1120.3" r="4.4"/><circle cx="225.8" cy="1128.4" r="4.4"/><circle cx="259.3" cy="1112" r="4.4"/><circle cx="254.8" cy="1128.4" r="4.4"/><circle cx="283.2" cy="1111.4" r="4.4"/><circle cx="296.7" cy="1107.5" r="4.4"/><circle cx="309.5" cy="1109" r="4.4"/><circle cx="313.1" cy="1119.4" r="4.4"/><circle cx="313.1" cy="1135.3" r="4.4"/><circle cx="283.2" cy="1137.4" r="4.4"/><circle cx="341.5" cy="1113.5" r="4.4"/><circle cx="336.5" cy="1119.4" r="4.4"/><circle cx="348.4" cy="1126.3" r="4.4"/><circle cx="346" cy="1131.4" r="4.4"/><circle cx="349.9" cy="1132.9" r="4.4"/><circle cx="358" cy="1135.9" r="4.4"/><circle cx="364" cy="1137.4" r="4.4"/><circle cx="344.5" cy="1144.3" r="4.4"/><circle cx="412.4" cy="1115" r="4.4"/><circle cx="410.3" cy="1121.5" r="4.4"/><circle cx="407.4" cy="1129.9" r="4.4"/><circle cx="411.8" cy="1129.9" r="4.4"/><circle cx="401.4" cy="1135.9" r="4.4"/><circle cx="398.4" cy="1137.4" r="4.4"/><circle cx="405.9" cy="1137.4" r="4.4"/><circle cx="415.4" cy="1144.3" r="4.4"/><circle cx="436.7" cy="1131.4" r="4.4"/><circle cx="437.3" cy="1138.9" r="4.4"/><circle cx="449.2" cy="1149.4" r="4.4"/><circle cx="504.6" cy="1112" r="4.4"/><circle cx="507.6" cy="1120.3" r="4.4"/><circle cx="507.6" cy="1128.4" r="4.4"/><circle cx="532.4" cy="1119.4" r="4.4"/><circle cx="523.4" cy="1127.5" r="4.4"/><circle cx="531.5" cy="1128.4" r="4.4"/><circle cx="557.5" cy="1112" r="4.4"/><circle cx="564.4" cy="1119.4" r="4.4"/><circle cx="565.9" cy="1128.4" r="4.4"/><circle cx="599.7" cy="1112" r="4.4"/><circle cx="595.8" cy="1128.4" r="4.4"/><circle cx="598.8" cy="1133.5" r="4.4"/><circle cx="639.2" cy="1108.4" r="4.4"/><circle cx="648.1" cy="1123.9" r="4.4"/><circle cx="631.7" cy="1133.5" r="4.4"/><circle cx="625.7" cy="1137.4" r="4.4"/><circle cx="653.5" cy="1135.3" r="4.4"/><circle cx="676" cy="1119.4" r="4.4"/><circle cx="683.4" cy="1113.5" r="4.4"/><circle cx="689.4" cy="1126.3" r="4.4"/><circle cx="705" cy="1138.3" r="4.4"/><circle cx="752.8" cy="1115" r="4.4"/><circle cx="752.8" cy="1122.4" r="4.4"/><circle cx="751.3" cy="1129.9" r="4.4"/><circle cx="757.3" cy="1144.3" r="4.4"/><circle cx="156.1" cy="1156.8" r="4.4"/><circle cx="256.3" cy="1156.2" r="4.4"/><circle cx="47.5" cy="1164.3" r="4.4"/><circle cx="75.3" cy="1164.3" r="4.4"/><circle cx="103.2" cy="1177.8" r="4.4"/><circle cx="130.7" cy="1170.9" r="4.4"/><circle cx="136.7" cy="1170.9" r="4.4"/><circle cx="150.7" cy="1170.9" r="4.4"/><circle cx="139.6" cy="1185.8" r="4.4"/><circle cx="136.7" cy="1197.2" r="4.4"/><circle cx="144.1" cy="1197.2" r="4.4"/><circle cx="151.6" cy="1195.7" r="4.4"/><circle cx="151.6" cy="1200.8" r="4.4"/><circle cx="165.1" cy="1195.7" r="4.4"/><circle cx="161.2" cy="1200.8" r="4.4"/><circle cx="215.9" cy="1198.1" r="4.4"/><circle cx="228.8" cy="1186.7" r="4.4"/><circle cx="228.8" cy="1197.2" r="4.4"/><circle cx="237.8" cy="1197.2" r="4.4"/><circle cx="240.7" cy="1183.2" r="4.4"/><circle cx="265.3" cy="1195.7" r="4.4"/><circle cx="301.2" cy="1177.8" r="4.4"/><circle cx="337.7" cy="1167.3" r="4.4"/><circle cx="354.4" cy="1164.3" r="4.4"/><circle cx="357.4" cy="1177.8" r="4.4"/><circle cx="367" cy="1173.3" r="4.4"/><circle cx="375.3" cy="1169.4" r="4.4"/><circle cx="375.3" cy="1173.3" r="4.4"/><circle cx="368.5" cy="1187.3" r="4.4"/><circle cx="347.5" cy="1189.7" r="4.4"/><circle cx="352.6" cy="1189.1" r="4.4"/><circle cx="390.9" cy="1171.8" r="4.4"/><circle cx="397.5" cy="1165.2" r="4.4"/><circle cx="412.4" cy="1163.7" r="4.4"/><circle cx="416.3" cy="1166.4" r="4.4"/><circle cx="393.9" cy="1189.1" r="4.4"/><circle cx="500.1" cy="1158.3" r="4.4"/><circle cx="477.6" cy="1170.3" r="4.4"/><circle cx="486.6" cy="1195.7" r="4.4"/><circle cx="492.6" cy="1193.3" r="4.4"/><circle cx="503.1" cy="1197.2" r="4.4"/><circle cx="507.6" cy="1194.2" r="4.4"/><circle cx="502.5" cy="1205.6" r="4.4"/><circle cx="556.9" cy="1170.3" r="4.4"/><circle cx="562.9" cy="1173.3" r="4.4"/><circle cx="565.9" cy="1186.1" r="4.4"/><circle cx="581.7" cy="1182.3" r="4.4"/><circle cx="579.3" cy="1194.2" r="4.4"/><circle cx="583.8" cy="1195.7" r="4.4"/><circle cx="567.4" cy="1198.1" r="4.4"/><circle cx="601.8" cy="1198.1" r="4.4"/><circle cx="606.9" cy="1196.3" r="4.4"/><circle cx="645.1" cy="1170.3" r="4.4"/><circle cx="694.5" cy="1165.2" r="4.4"/><circle cx="717.8" cy="1173.3" r="4.4"/><circle cx="731.9" cy="1171.8" r="4.4"/><circle cx="738.8" cy="1165.2" r="4.4"/><circle cx="757.3" cy="1167.3" r="4.4"/><circle cx="61.3" cy="1211.6" r="4.4"/><circle cx="54.4" cy="1216.7" r="4.4"/><circle cx="76.8" cy="1222" r="4.4"/><circle cx="69.4" cy="1225.6" r="4.4"/><circle cx="67.9" cy="1232.2" r="4.4"/><circle cx="52.3" cy="1234.6" r="4.4"/><circle cx="371.5" cy="1207.7" r="4.4"/><circle cx="346" cy="1213.7" r="4.4"/><circle cx="349" cy="1217.3" r="4.4"/><circle cx="340.1" cy="1222.6" r="4.4"/><circle cx="328.1" cy="1222.6" r="4.4"/><circle cx="329.6" cy="1230.1" r="4.4"/><circle cx="394.5" cy="1216.7" r="4.4"/><circle cx="402.9" cy="1212.2" r="4.4"/><circle cx="407.4" cy="1216.7" r="4.4"/><circle cx="408.3" cy="1231.6" r="4.4"/><circle cx="418.4" cy="1230.1" r="4.4"/><circle cx="418.4" cy="1239.1" r="4.4"/><circle cx="685.5" cy="1215.2" r="4.4"/><circle cx="702.9" cy="1217.3" r="4.4"/><circle cx="679.5" cy="1222.6" r="4.4"/><circle cx="684" cy="1223.5" r="4.4"/><circle cx="670.6" cy="1222.6" r="4.4"/><circle cx="670.6" cy="1230.1" r="4.4"/><circle cx="679.5" cy="1240" r="4.4"/><circle cx="735.5" cy="1216.7" r="4.4"/><circle cx="743.9" cy="1210.7" r="4.4"/><circle cx="743.9" cy="1224.1" r="4.4"/><circle cx="749.8" cy="1225.6" r="4.4"/><circle cx="751.3" cy="1233.1" r="4.4"/><circle cx="753.7" cy="1239.1" r="4.4"/><circle cx="157" cy="1225" r="4.4"/><circle cx="152.2" cy="1242.1" r="4.4"/><circle cx="152.2" cy="1250.2" r="4.4"/><circle cx="58.3" cy="1257" r="4.4"/><circle cx="251.8" cy="1258.5" r="4.4"/><circle cx="257.8" cy="1257.9" r="4.4"/><circle cx="256.3" cy="1265.4" r="4.4"/><circle cx="369.1" cy="1257.9" r="4.4"/><circle cx="385.5" cy="1254" r="4.4"/><circle cx="499.2" cy="1225" r="4.4"/><circle cx="493.2" cy="1241.2" r="4.4"/><circle cx="493.2" cy="1250.2" r="4.4"/><circle cx="596.7" cy="1250.5" r="4.4"/><circle cx="592.2" cy="1258.5" r="4.4"/><circle cx="595.8" cy="1265.4" r="4.4"/><circle cx="696.9" cy="1256.1" r="4.4"/><circle cx="710.1" cy="1257.9" r="4.4"/><circle cx="849.7" cy="1102.4" r="4.4"/><circle cx="1187.7" cy="1102.4" r="4.4"/><circle cx="1264.9" cy="1103" r="4.4"/><circle cx="1275.1" cy="1103" r="4.4"/><circle cx="1466.5" cy="1105.4" r="4.4"/><circle cx="810.3" cy="1115" r="4.4"/><circle cx="785.4" cy="1125.4" r="4.4"/><circle cx="779.4" cy="1140.4" r="4.4"/><circle cx="785.4" cy="1140.4" r="4.4"/><circle cx="761.5" cy="1145.5" r="4.4"/><circle cx="809.4" cy="1135.9" r="4.4"/><circle cx="863.2" cy="1120.3" r="4.4"/><circle cx="863.2" cy="1128.4" r="4.4"/><circle cx="890.1" cy="1120.3" r="4.4"/><circle cx="897.6" cy="1113.5" r="4.4"/><circle cx="908.1" cy="1113.5" r="4.4"/><circle cx="908.1" cy="1117.9" r="4.4"/><circle cx="890.1" cy="1128.4" r="4.4"/><circle cx="897.6" cy="1128.4" r="4.4"/><circle cx="939.5" cy="1120.3" r="4.4"/><circle cx="938.9" cy="1129" r="4.4"/><circle cx="951.4" cy="1110.5" r="4.4"/><circle cx="964.3" cy="1111.4" r="4.4"/><circle cx="977.5" cy="1106.6" r="4.4"/><circle cx="990.3" cy="1109" r="4.4"/><circle cx="1001.7" cy="1111.4" r="4.4"/><circle cx="995.7" cy="1119.4" r="4.4"/><circle cx="994.8" cy="1134.4" r="4.4"/><circle cx="973.3" cy="1132.9" r="4.4"/><circle cx="966.4" cy="1137.4" r="4.4"/><circle cx="1017.8" cy="1119.4" r="4.4"/><circle cx="1023.8" cy="1113.5" r="4.4"/><circle cx="1029.8" cy="1125.4" r="4.4"/><circle cx="1030.7" cy="1131.4" r="4.4"/><circle cx="1033.7" cy="1135.9" r="4.4"/><circle cx="1041.2" cy="1137.4" r="4.4"/><circle cx="1028.6" cy="1143.4" r="4.4"/><circle cx="1097.4" cy="1112.6" r="4.4"/><circle cx="1094.4" cy="1116.5" r="4.4"/><circle cx="1092" cy="1121.5" r="4.4"/><circle cx="1089" cy="1129.9" r="4.4"/><circle cx="1094.4" cy="1130.5" r="4.4"/><circle cx="1086" cy="1137.4" r="4.4"/><circle cx="1078" cy="1137.4" r="4.4"/><circle cx="1077.1" cy="1144.9" r="4.4"/><circle cx="1092" cy="1144.9" r="4.4"/><circle cx="1102.5" cy="1147.9" r="4.4"/><circle cx="1108.5" cy="1147.9" r="4.4"/><circle cx="1109.4" cy="1142.5" r="4.4"/><circle cx="1123.4" cy="1131.4" r="4.4"/><circle cx="1120.4" cy="1138.9" r="4.4"/><circle cx="1128.5" cy="1147.9" r="4.4"/><circle cx="1187.7" cy="1112.6" r="4.4"/><circle cx="1188.3" cy="1120.3" r="4.4"/><circle cx="1187.7" cy="1128.4" r="4.4"/><circle cx="1207.2" cy="1114.4" r="4.4"/><circle cx="1211.7" cy="1113.5" r="4.4"/><circle cx="1219.1" cy="1112.6" r="4.4"/><circle cx="1205.7" cy="1120.3" r="4.4"/><circle cx="1211.7" cy="1120.3" r="4.4"/><circle cx="1205.7" cy="1127.5" r="4.4"/><circle cx="1211.7" cy="1127.5" r="4.4"/><circle cx="1246.1" cy="1119.4" r="4.4"/><circle cx="1246.1" cy="1128.4" r="4.4"/><circle cx="1314.9" cy="1132.9" r="4.4"/><circle cx="1329.8" cy="1109.6" r="4.4"/><circle cx="1337.3" cy="1136.5" r="4.4"/><circle cx="1365.1" cy="1113.5" r="4.4"/><circle cx="1372.6" cy="1126.3" r="4.4"/><circle cx="1386" cy="1138" r="4.4"/><circle cx="1419.5" cy="1137.4" r="4.4"/><circle cx="1433" cy="1131.4" r="4.4"/><circle cx="1436.6" cy="1115" r="4.4"/><circle cx="1441.4" cy="1141.3" r="4.4"/><circle cx="1461.4" cy="1120.3" r="4.4"/><circle cx="1468.3" cy="1120.3" r="4.4"/><circle cx="1468.3" cy="1140.4" r="4.4"/><circle cx="937.4" cy="1157.4" r="4.4"/><circle cx="817.4" cy="1170.3" r="4.4"/><circle cx="833.3" cy="1171.2" r="4.4"/><circle cx="801.9" cy="1182.3" r="4.4"/><circle cx="813.8" cy="1195.7" r="4.4"/><circle cx="831.8" cy="1198.7" r="4.4"/><circle cx="844.4" cy="1200.2" r="4.4"/><circle cx="901.2" cy="1171.8" r="4.4"/><circle cx="898.2" cy="1198.1" r="4.4"/><circle cx="911.1" cy="1188.2" r="4.4"/><circle cx="909.6" cy="1197.2" r="4.4"/><circle cx="923" cy="1183.2" r="4.4"/><circle cx="920" cy="1190.6" r="4.4"/><circle cx="923" cy="1198.1" r="4.4"/><circle cx="936.5" cy="1196.3" r="4.4"/><circle cx="934.4" cy="1171.8" r="4.4"/><circle cx="955.3" cy="1171.8" r="4.4"/><circle cx="1017.8" cy="1167.3" r="4.4"/><circle cx="1022.6" cy="1159.8" r="4.4"/><circle cx="1037.6" cy="1177.2" r="4.4"/><circle cx="1028.6" cy="1189.7" r="4.4"/><circle cx="1036.7" cy="1188.2" r="4.4"/><circle cx="1076.5" cy="1173.3" r="4.4"/><circle cx="1076.5" cy="1188.2" r="4.4"/><circle cx="1099.5" cy="1166.4" r="4.4"/><circle cx="1175.2" cy="1158.3" r="4.4"/><circle cx="1181.8" cy="1159.2" r="4.4"/><circle cx="1160.8" cy="1170.3" r="4.4"/><circle cx="1170.7" cy="1171.2" r="4.4"/><circle cx="1277.5" cy="1156.2" r="4.4"/><circle cx="1244" cy="1173.3" r="4.4"/><circle cx="1248.2" cy="1186.7" r="4.4"/><circle cx="1250.5" cy="1197.2" r="4.4"/><circle cx="1258" cy="1198.1" r="4.4"/><circle cx="1287.9" cy="1195.7" r="4.4"/><circle cx="1297.5" cy="1171.8" r="4.4"/><circle cx="1159.3" cy="1195.7" r="4.4"/><circle cx="1168.9" cy="1193.6" r="4.4"/><circle cx="1180.3" cy="1192.1" r="4.4"/><circle cx="1188.3" cy="1194.2" r="4.4"/><circle cx="1329.2" cy="1169.4" r="4.4"/><circle cx="1362.7" cy="1159.8" r="4.4"/><circle cx="1361.2" cy="1167.3" r="4.4"/><circle cx="1386" cy="1174.8" r="4.4"/><circle cx="1397.1" cy="1168.2" r="4.4"/><circle cx="1413" cy="1173.3" r="4.4"/><circle cx="1420.1" cy="1164.3" r="4.4"/><circle cx="1438.4" cy="1165.2" r="4.4"/><circle cx="1028.3" cy="1214.3" r="4.4"/><circle cx="1011.3" cy="1222.6" r="4.4"/><circle cx="1011.3" cy="1230.1" r="4.4"/><circle cx="1023.8" cy="1222.6" r="4.4"/><circle cx="1085.4" cy="1213.1" r="4.4"/><circle cx="1099.5" cy="1222.6" r="4.4"/><circle cx="1100.4" cy="1230.1" r="4.4"/><circle cx="1367.2" cy="1214.3" r="4.4"/><circle cx="1393.5" cy="1207.7" r="4.4"/><circle cx="1422.5" cy="1213.7" r="4.4"/><circle cx="1424" cy="1211.3" r="4.4"/><circle cx="1419.5" cy="1215.2" r="4.4"/><circle cx="1431.5" cy="1225.6" r="4.4"/><circle cx="1441.4" cy="1222.6" r="4.4"/><circle cx="1430" cy="1231.6" r="4.4"/><circle cx="1352.2" cy="1222.6" r="4.4"/><circle cx="1352.2" cy="1230.1" r="4.4"/><circle cx="1362.7" cy="1222.6" r="4.4"/><circle cx="1367.2" cy="1225.6" r="4.4"/><circle cx="760" cy="1222.6" r="4.4"/><circle cx="772" cy="1240.6" r="4.4"/><circle cx="840.2" cy="1226.2" r="4.4"/><circle cx="834.8" cy="1241.2" r="4.4"/><circle cx="835.4" cy="1250.5" r="4.4"/><circle cx="937.1" cy="1260.6" r="4.4"/><circle cx="1175.8" cy="1242.1" r="4.4"/><circle cx="1189.2" cy="1261.5" r="4.4"/><circle cx="1279.6" cy="1261.5" r="4.4"/><circle cx="1273.6" cy="1265.4" r="4.4"/><circle cx="1377.7" cy="1255.5" r="4.4"/>
</g>
<text x="1995.5" y="73.7" font-family="Liberation Sans, sans-serif" font-size="52" textLength="503.3" lengthAdjust="spacingAndGlyphs">Image 1 - Keypoints</text>
<text x="505.5" y="496.4" font-family="Liberation Sans, sans-serif" font-size="52" textLength="503" lengthAdjust="spacingAndGlyphs">Image 0 - Keypoints</text>
<text x="41" y="575.6" font-family="Liberation Sans, sans-serif" font-size="65" fill="#fff" stroke="#000" stroke-width="7.5" stroke-linejoin="round" paint-order="stroke" textLength="42.5" lengthAdjust="spacingAndGlyphs">#</text>
<text x="108.5" y="575.6" font-family="Liberation Sans, sans-serif" font-size="65" fill="#fff" stroke="#000" stroke-width="7.5" stroke-linejoin="round" paint-order="stroke" textLength="362.1" lengthAdjust="spacingAndGlyphs">keypoints0:</text>
<text x="492.5" y="575.6" font-family="Liberation Sans, sans-serif" font-size="65" fill="#fff" stroke="#000" stroke-width="7.5" stroke-linejoin="round" paint-order="stroke" textLength="115.2" lengthAdjust="spacingAndGlyphs">940</text>
<text x="41" y="645" font-family="Liberation Sans, sans-serif" font-size="65" fill="#fff" stroke="#000" stroke-width="7.5" stroke-linejoin="round" paint-order="stroke" textLength="42.5" lengthAdjust="spacingAndGlyphs">#</text>
<text x="108.5" y="645" font-family="Liberation Sans, sans-serif" font-size="65" fill="#fff" stroke="#000" stroke-width="7.5" stroke-linejoin="round" paint-order="stroke" textLength="362.1" lengthAdjust="spacingAndGlyphs">keypoints1:</text>
<text x="492.5" y="645" font-family="Liberation Sans, sans-serif" font-size="65" fill="#fff" stroke="#000" stroke-width="7.5" stroke-linejoin="round" paint-order="stroke" textLength="115.2" lengthAdjust="spacingAndGlyphs">940</text>

</svg></body></html>
